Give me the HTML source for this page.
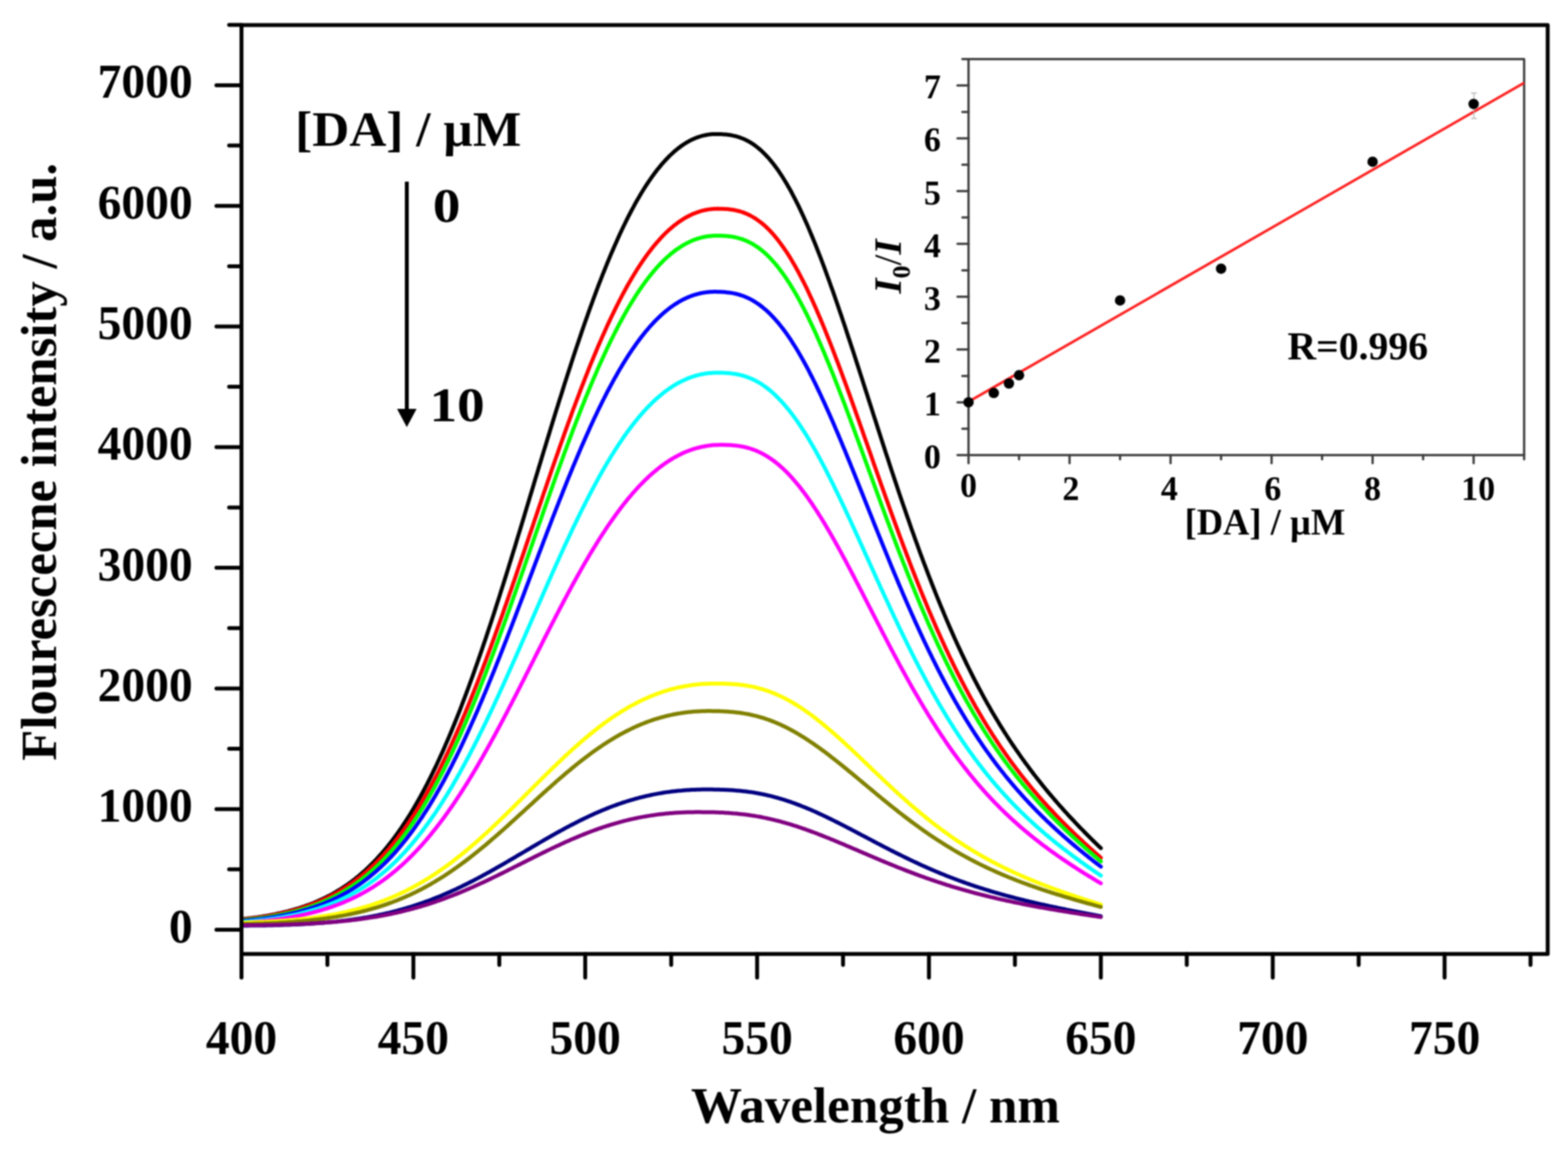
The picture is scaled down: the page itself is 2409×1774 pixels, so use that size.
<!DOCTYPE html>
<html><head><meta charset="utf-8"><title>Fluorescence spectra</title>
<style>html,body{margin:0;padding:0;background:#fff;}svg{display:block;filter:blur(1.1px);}</style>
</head><body>
<svg width="2409" height="1774" viewBox="0 0 2409 1774">
<rect x="0" y="0" width="2409" height="1774" fill="#ffffff"/>
<g fill="none" stroke-width="6" stroke-linejoin="round" stroke-linecap="round">
<path stroke="#000000" d="M371.0,1411.8 L373.6,1411.5 L376.3,1411.2 L378.9,1410.9 L381.6,1410.6 L384.2,1410.3 L386.8,1409.9 L389.5,1409.6 L392.1,1409.2 L394.8,1408.9 L397.4,1408.5 L400.0,1408.1 L402.7,1407.7 L405.3,1407.3 L408.0,1406.8 L410.6,1406.4 L413.2,1405.9 L415.9,1405.4 L418.5,1404.9 L421.2,1404.4 L423.8,1403.9 L426.5,1403.3 L429.1,1402.7 L431.7,1402.1 L434.4,1401.5 L437.0,1400.9 L439.7,1400.3 L442.3,1399.6 L444.9,1398.9 L447.6,1398.2 L450.2,1397.5 L452.9,1396.7 L455.5,1395.9 L458.1,1395.1 L460.8,1394.3 L463.4,1393.4 L466.1,1392.5 L468.7,1391.6 L471.3,1390.7 L474.0,1389.7 L476.6,1388.7 L479.3,1387.7 L481.9,1386.7 L484.5,1385.6 L487.2,1384.5 L489.8,1383.3 L492.5,1382.1 L495.1,1380.9 L497.7,1379.6 L500.4,1378.4 L503.0,1377.0 L505.7,1375.7 L508.3,1374.3 L511.0,1372.8 L513.6,1371.3 L516.2,1369.8 L518.9,1368.2 L521.5,1366.6 L524.2,1365.0 L526.8,1363.3 L529.4,1361.5 L532.1,1359.7 L534.7,1357.9 L537.4,1356.0 L540.0,1354.1 L542.6,1352.1 L545.3,1350.0 L547.9,1347.9 L550.6,1345.8 L553.2,1343.6 L555.8,1341.3 L558.5,1339.0 L561.1,1336.6 L563.8,1334.2 L566.4,1331.7 L569.0,1329.1 L571.7,1326.5 L574.3,1323.8 L577.0,1321.0 L579.6,1318.2 L582.2,1315.3 L584.9,1312.4 L587.5,1309.4 L590.2,1306.3 L592.8,1303.1 L595.5,1299.9 L598.1,1296.6 L600.7,1293.2 L603.4,1289.8 L606.0,1286.2 L608.7,1282.6 L611.3,1279.0 L613.9,1275.2 L616.6,1271.4 L619.2,1267.5 L621.9,1263.5 L624.5,1259.4 L627.1,1255.3 L629.8,1251.0 L632.4,1246.7 L635.1,1242.3 L637.7,1237.8 L640.3,1233.3 L643.0,1228.6 L645.6,1223.9 L648.3,1219.0 L650.9,1214.1 L653.5,1209.1 L656.2,1204.1 L658.8,1198.9 L661.5,1193.6 L664.1,1188.3 L666.7,1182.9 L669.4,1177.4 L672.0,1171.7 L674.7,1166.1 L677.3,1160.3 L680.0,1154.4 L682.6,1148.5 L685.2,1142.4 L687.9,1136.3 L690.5,1130.1 L693.2,1123.8 L695.8,1117.4 L698.4,1111.0 L701.1,1104.4 L703.7,1097.8 L706.4,1091.1 L709.0,1084.3 L711.6,1077.4 L714.3,1070.4 L716.9,1063.4 L719.6,1056.3 L722.2,1049.1 L724.8,1041.9 L727.5,1034.5 L730.1,1027.1 L732.8,1019.6 L735.4,1012.1 L738.0,1004.5 L740.7,996.8 L743.3,989.0 L746.0,981.2 L748.6,973.3 L751.2,965.4 L753.9,957.4 L756.5,949.3 L759.2,941.2 L761.8,933.0 L764.4,924.8 L767.1,916.6 L769.7,908.2 L772.4,899.9 L775.0,891.5 L777.7,883.0 L780.3,874.6 L782.9,866.1 L785.6,857.5 L788.2,848.9 L790.9,840.3 L793.5,831.7 L796.1,823.0 L798.8,814.3 L801.4,805.6 L804.1,796.9 L806.7,788.2 L809.3,779.5 L812.0,770.7 L814.6,761.9 L817.3,753.2 L819.9,744.4 L822.5,735.7 L825.2,726.9 L827.8,718.2 L830.5,709.4 L833.1,700.7 L835.7,692.0 L838.4,683.3 L841.0,674.6 L843.7,666.0 L846.3,657.4 L848.9,648.8 L851.6,640.2 L854.2,631.7 L856.9,623.2 L859.5,614.7 L862.2,606.3 L864.8,598.0 L867.4,589.6 L870.1,581.4 L872.7,573.1 L875.4,565.0 L878.0,556.9 L880.6,548.8 L883.3,540.8 L885.9,532.9 L888.6,525.0 L891.2,517.2 L893.8,509.5 L896.5,501.8 L899.1,494.2 L901.8,486.7 L904.4,479.3 L907.0,471.9 L909.7,464.7 L912.3,457.5 L915.0,450.4 L917.6,443.3 L920.2,436.4 L922.9,429.6 L925.5,422.8 L928.2,416.1 L930.8,409.6 L933.4,403.1 L936.1,396.7 L938.7,390.4 L941.4,384.2 L944.0,378.2 L946.7,372.2 L949.3,366.3 L951.9,360.5 L954.6,354.8 L957.2,349.3 L959.9,343.8 L962.5,338.4 L965.1,333.2 L967.8,328.0 L970.4,323.0 L973.1,318.1 L975.7,313.2 L978.3,308.5 L981.0,303.9 L983.6,299.4 L986.3,295.0 L988.9,290.7 L991.5,286.6 L994.2,282.5 L996.8,278.6 L999.5,274.7 L1002.1,271.0 L1004.7,267.4 L1007.4,263.9 L1010.0,260.4 L1012.7,257.2 L1015.3,254.0 L1017.9,250.9 L1020.6,247.9 L1023.2,245.1 L1025.9,242.3 L1028.5,239.6 L1031.2,237.1 L1033.8,234.7 L1036.4,232.3 L1039.1,230.1 L1041.7,228.0 L1044.4,226.0 L1047.0,224.0 L1049.6,222.2 L1052.3,220.5 L1054.9,218.9 L1057.6,217.4 L1060.2,215.9 L1062.8,214.6 L1065.5,213.4 L1068.1,212.3 L1070.8,211.2 L1073.4,210.3 L1076.0,209.5 L1078.7,208.7 L1081.3,208.1 L1084.0,207.5 L1086.6,207.0 L1089.2,206.6 L1091.9,206.3 L1094.5,206.1 L1097.2,206.0 L1099.8,205.9 L1102.4,206.0 L1105.1,206.0 L1107.7,206.1 L1110.4,206.2 L1113.0,206.4 L1115.6,206.6 L1118.3,206.9 L1120.9,207.3 L1123.6,207.7 L1126.2,208.3 L1128.9,208.9 L1131.5,209.5 L1134.1,210.3 L1136.8,211.2 L1139.4,212.2 L1142.1,213.2 L1144.7,214.4 L1147.3,215.7 L1150.0,217.1 L1152.6,218.6 L1155.3,220.3 L1157.9,222.0 L1160.5,223.9 L1163.2,226.0 L1165.8,228.1 L1168.5,230.4 L1171.1,232.8 L1173.7,235.4 L1176.4,238.1 L1179.0,240.9 L1181.7,243.8 L1184.3,247.0 L1186.9,250.2 L1189.6,253.6 L1192.2,257.1 L1194.9,260.8 L1197.5,264.6 L1200.1,268.6 L1202.8,272.7 L1205.4,277.0 L1208.1,281.3 L1210.7,285.9 L1213.4,290.5 L1216.0,295.3 L1218.6,300.3 L1221.3,305.4 L1223.9,310.6 L1226.6,315.9 L1229.2,321.4 L1231.8,327.0 L1234.5,332.7 L1237.1,338.6 L1239.8,344.6 L1242.4,350.6 L1245.0,356.9 L1247.7,363.2 L1250.3,369.6 L1253.0,376.1 L1255.6,382.8 L1258.2,389.5 L1260.9,396.4 L1263.5,403.3 L1266.2,410.4 L1268.8,417.5 L1271.4,424.7 L1274.1,432.0 L1276.7,439.4 L1279.4,446.8 L1282.0,454.3 L1284.6,461.9 L1287.3,469.6 L1289.9,477.3 L1292.6,485.1 L1295.2,492.9 L1297.9,500.8 L1300.5,508.7 L1303.1,516.7 L1305.8,524.7 L1308.4,532.7 L1311.1,540.8 L1313.7,548.9 L1316.3,557.0 L1319.0,565.2 L1321.6,573.4 L1324.3,581.6 L1326.9,589.8 L1329.5,598.0 L1332.2,606.2 L1334.8,614.5 L1337.5,622.7 L1340.1,630.9 L1342.7,639.1 L1345.4,647.3 L1348.0,655.5 L1350.7,663.7 L1353.3,671.9 L1355.9,680.0 L1358.6,688.2 L1361.2,696.3 L1363.9,704.3 L1366.5,712.4 L1369.1,720.4 L1371.8,728.4 L1374.4,736.3 L1377.1,744.2 L1379.7,752.1 L1382.3,759.9 L1385.0,767.7 L1387.6,775.4 L1390.3,783.1 L1392.9,790.8 L1395.6,798.3 L1398.2,805.9 L1400.8,813.4 L1403.5,820.8 L1406.1,828.2 L1408.8,835.5 L1411.4,842.7 L1414.0,849.9 L1416.7,857.1 L1419.3,864.2 L1422.0,871.2 L1424.6,878.1 L1427.2,885.0 L1429.9,891.8 L1432.5,898.6 L1435.2,905.3 L1437.8,912.0 L1440.4,918.5 L1443.1,925.0 L1445.7,931.5 L1448.4,937.8 L1451.0,944.1 L1453.6,950.4 L1456.3,956.6 L1458.9,962.7 L1461.6,968.7 L1464.2,974.7 L1466.8,980.6 L1469.5,986.4 L1472.1,992.2 L1474.8,997.9 L1477.4,1003.6 L1480.1,1009.1 L1482.7,1014.6 L1485.3,1020.1 L1488.0,1025.5 L1490.6,1030.8 L1493.3,1036.1 L1495.9,1041.3 L1498.5,1046.4 L1501.2,1051.5 L1503.8,1056.5 L1506.5,1061.4 L1509.1,1066.3 L1511.7,1071.2 L1514.4,1075.9 L1517.0,1080.7 L1519.7,1085.3 L1522.3,1089.9 L1524.9,1094.5 L1527.6,1099.0 L1530.2,1103.4 L1532.9,1107.8 L1535.5,1112.1 L1538.1,1116.4 L1540.8,1120.7 L1543.4,1124.8 L1546.1,1129.0 L1548.7,1133.1 L1551.3,1137.1 L1554.0,1141.1 L1556.6,1145.0 L1559.3,1148.9 L1561.9,1152.8 L1564.6,1156.6 L1567.2,1160.4 L1569.8,1164.1 L1572.5,1167.8 L1575.1,1171.4 L1577.8,1175.0 L1580.4,1178.6 L1583.0,1182.1 L1585.7,1185.6 L1588.3,1189.1 L1591.0,1192.5 L1593.6,1195.9 L1596.2,1199.2 L1598.9,1202.5 L1601.5,1205.8 L1604.2,1209.1 L1606.8,1212.3 L1609.4,1215.5 L1612.1,1218.7 L1614.7,1221.8 L1617.4,1224.9 L1620.0,1228.0 L1622.6,1231.0 L1625.3,1234.1 L1627.9,1237.1 L1630.6,1240.0 L1633.2,1243.0 L1635.8,1245.9 L1638.5,1248.8 L1641.1,1251.7 L1643.8,1254.6 L1646.4,1257.4 L1649.1,1260.2 L1651.7,1263.0 L1654.3,1265.8 L1657.0,1268.6 L1659.6,1271.3 L1662.3,1274.0 L1664.9,1276.7 L1667.5,1279.4 L1670.2,1282.1 L1672.8,1284.7 L1675.5,1287.3 L1678.1,1290.0 L1680.7,1292.5 L1683.4,1295.1 L1686.0,1297.7 L1688.7,1300.2 L1691.3,1302.7"/>
<path stroke="#ff0000" d="M371.0,1412.4 L373.6,1412.2 L376.3,1411.9 L378.9,1411.6 L381.6,1411.3 L384.2,1410.9 L386.8,1410.6 L389.5,1410.3 L392.1,1409.9 L394.8,1409.5 L397.4,1409.2 L400.0,1408.8 L402.7,1408.4 L405.3,1408.0 L408.0,1407.5 L410.6,1407.1 L413.2,1406.6 L415.9,1406.1 L418.5,1405.6 L421.2,1405.1 L423.8,1404.6 L426.5,1404.1 L429.1,1403.5 L431.7,1402.9 L434.4,1402.3 L437.0,1401.7 L439.7,1401.1 L442.3,1400.4 L444.9,1399.8 L447.6,1399.1 L450.2,1398.3 L452.9,1397.6 L455.5,1396.8 L458.1,1396.1 L460.8,1395.3 L463.4,1394.4 L466.1,1393.6 L468.7,1392.7 L471.3,1391.8 L474.0,1390.9 L476.6,1389.9 L479.3,1388.9 L481.9,1387.9 L484.5,1386.9 L487.2,1385.8 L489.8,1384.7 L492.5,1383.5 L495.1,1382.4 L497.7,1381.2 L500.4,1379.9 L503.0,1378.7 L505.7,1377.4 L508.3,1376.0 L511.0,1374.6 L513.6,1373.2 L516.2,1371.8 L518.9,1370.3 L521.5,1368.7 L524.2,1367.2 L526.8,1365.5 L529.4,1363.9 L532.1,1362.2 L534.7,1360.4 L537.4,1358.6 L540.0,1356.8 L542.6,1354.9 L545.3,1353.0 L547.9,1351.0 L550.6,1349.0 L553.2,1346.9 L555.8,1344.8 L558.5,1342.6 L561.1,1340.3 L563.8,1338.0 L566.4,1335.7 L569.0,1333.3 L571.7,1330.8 L574.3,1328.3 L577.0,1325.7 L579.6,1323.1 L582.2,1320.4 L584.9,1317.7 L587.5,1314.8 L590.2,1312.0 L592.8,1309.0 L595.5,1306.0 L598.1,1302.9 L600.7,1299.8 L603.4,1296.6 L606.0,1293.3 L608.7,1290.0 L611.3,1286.6 L613.9,1283.1 L616.6,1279.5 L619.2,1275.9 L621.9,1272.2 L624.5,1268.4 L627.1,1264.6 L629.8,1260.7 L632.4,1256.7 L635.1,1252.7 L637.7,1248.5 L640.3,1244.3 L643.0,1240.1 L645.6,1235.7 L648.3,1231.3 L650.9,1226.8 L653.5,1222.2 L656.2,1217.5 L658.8,1212.8 L661.5,1208.0 L664.1,1203.1 L666.7,1198.1 L669.4,1193.1 L672.0,1188.0 L674.7,1182.8 L677.3,1177.5 L680.0,1172.2 L682.6,1166.7 L685.2,1161.2 L687.9,1155.7 L690.5,1150.0 L693.2,1144.3 L695.8,1138.5 L698.4,1132.6 L701.1,1126.7 L703.7,1120.7 L706.4,1114.6 L709.0,1108.4 L711.6,1102.2 L714.3,1095.9 L716.9,1089.5 L719.6,1083.1 L722.2,1076.6 L724.8,1070.1 L727.5,1063.4 L730.1,1056.8 L732.8,1050.0 L735.4,1043.2 L738.0,1036.3 L740.7,1029.4 L743.3,1022.4 L746.0,1015.4 L748.6,1008.3 L751.2,1001.2 L753.9,994.0 L756.5,986.7 L759.2,979.4 L761.8,972.1 L764.4,964.7 L767.1,957.3 L769.7,949.9 L772.4,942.4 L775.0,934.8 L777.7,927.3 L780.3,919.7 L782.9,912.1 L785.6,904.4 L788.2,896.7 L790.9,889.0 L793.5,881.3 L796.1,873.6 L798.8,865.8 L801.4,858.0 L804.1,850.3 L806.7,842.5 L809.3,834.7 L812.0,826.8 L814.6,819.0 L817.3,811.2 L819.9,803.4 L822.5,795.6 L825.2,787.8 L827.8,780.0 L830.5,772.2 L833.1,764.4 L835.7,756.6 L838.4,748.9 L841.0,741.2 L843.7,733.5 L846.3,725.8 L848.9,718.1 L851.6,710.5 L854.2,702.9 L856.9,695.4 L859.5,687.8 L862.2,680.3 L864.8,672.9 L867.4,665.5 L870.1,658.1 L872.7,650.8 L875.4,643.5 L878.0,636.3 L880.6,629.1 L883.3,622.0 L885.9,615.0 L888.6,608.0 L891.2,601.0 L893.8,594.1 L896.5,587.3 L899.1,580.5 L901.8,573.9 L904.4,567.2 L907.0,560.7 L909.7,554.2 L912.3,547.8 L915.0,541.5 L917.6,535.2 L920.2,529.0 L922.9,522.9 L925.5,516.9 L928.2,511.0 L930.8,505.1 L933.4,499.3 L936.1,493.6 L938.7,488.0 L941.4,482.5 L944.0,477.1 L946.7,471.7 L949.3,466.5 L951.9,461.3 L954.6,456.2 L957.2,451.2 L959.9,446.3 L962.5,441.5 L965.1,436.8 L967.8,432.2 L970.4,427.7 L973.1,423.3 L975.7,419.0 L978.3,414.7 L981.0,410.6 L983.6,406.5 L986.3,402.6 L988.9,398.7 L991.5,395.0 L994.2,391.3 L996.8,387.8 L999.5,384.3 L1002.1,380.9 L1004.7,377.7 L1007.4,374.5 L1010.0,371.4 L1012.7,368.4 L1015.3,365.5 L1017.9,362.7 L1020.6,360.0 L1023.2,357.4 L1025.9,354.9 L1028.5,352.5 L1031.2,350.2 L1033.8,348.0 L1036.4,345.8 L1039.1,343.8 L1041.7,341.8 L1044.4,340.0 L1047.0,338.2 L1049.6,336.5 L1052.3,334.9 L1054.9,333.4 L1057.6,332.0 L1060.2,330.7 L1062.8,329.4 L1065.5,328.3 L1068.1,327.2 L1070.8,326.2 L1073.4,325.3 L1076.0,324.5 L1078.7,323.7 L1081.3,323.1 L1084.0,322.5 L1086.6,322.0 L1089.2,321.6 L1091.9,321.2 L1094.5,321.0 L1097.2,320.8 L1099.8,320.7 L1102.4,320.6 L1105.1,320.7 L1107.7,320.7 L1110.4,320.8 L1113.0,320.9 L1115.6,321.1 L1118.3,321.3 L1120.9,321.6 L1123.6,321.9 L1126.2,322.3 L1128.9,322.8 L1131.5,323.4 L1134.1,324.0 L1136.8,324.7 L1139.4,325.5 L1142.1,326.4 L1144.7,327.4 L1147.3,328.5 L1150.0,329.7 L1152.6,331.0 L1155.3,332.5 L1157.9,334.0 L1160.5,335.6 L1163.2,337.4 L1165.8,339.3 L1168.5,341.3 L1171.1,343.4 L1173.7,345.6 L1176.4,348.0 L1179.0,350.5 L1181.7,353.1 L1184.3,355.9 L1186.9,358.8 L1189.6,361.8 L1192.2,365.0 L1194.9,368.2 L1197.5,371.7 L1200.1,375.2 L1202.8,378.9 L1205.4,382.7 L1208.1,386.6 L1210.7,390.7 L1213.4,394.9 L1216.0,399.2 L1218.6,403.7 L1221.3,408.3 L1223.9,413.0 L1226.6,417.8 L1229.2,422.8 L1231.8,427.8 L1234.5,433.0 L1237.1,438.3 L1239.8,443.7 L1242.4,449.3 L1245.0,454.9 L1247.7,460.6 L1250.3,466.5 L1253.0,472.4 L1255.6,478.5 L1258.2,484.6 L1260.9,490.8 L1263.5,497.2 L1266.2,503.6 L1268.8,510.1 L1271.4,516.6 L1274.1,523.3 L1276.7,530.0 L1279.4,536.8 L1282.0,543.7 L1284.6,550.6 L1287.3,557.6 L1289.9,564.6 L1292.6,571.7 L1295.2,578.9 L1297.9,586.1 L1300.5,593.3 L1303.1,600.6 L1305.8,607.9 L1308.4,615.3 L1311.1,622.7 L1313.7,630.1 L1316.3,637.6 L1319.0,645.0 L1321.6,652.5 L1324.3,660.0 L1326.9,667.5 L1329.5,675.0 L1332.2,682.6 L1334.8,690.1 L1337.5,697.6 L1340.1,705.1 L1342.7,712.7 L1345.4,720.2 L1348.0,727.7 L1350.7,735.2 L1353.3,742.7 L1355.9,750.1 L1358.6,757.6 L1361.2,765.0 L1363.9,772.4 L1366.5,779.7 L1369.1,787.1 L1371.8,794.4 L1374.4,801.6 L1377.1,808.9 L1379.7,816.1 L1382.3,823.2 L1385.0,830.3 L1387.6,837.4 L1390.3,844.4 L1392.9,851.4 L1395.6,858.4 L1398.2,865.3 L1400.8,872.1 L1403.5,878.9 L1406.1,885.6 L1408.8,892.3 L1411.4,898.9 L1414.0,905.5 L1416.7,912.1 L1419.3,918.5 L1422.0,924.9 L1424.6,931.3 L1427.2,937.6 L1429.9,943.8 L1432.5,950.0 L1435.2,956.1 L1437.8,962.2 L1440.4,968.2 L1443.1,974.1 L1445.7,980.0 L1448.4,985.8 L1451.0,991.5 L1453.6,997.2 L1456.3,1002.8 L1458.9,1008.4 L1461.6,1013.9 L1464.2,1019.4 L1466.8,1024.7 L1469.5,1030.1 L1472.1,1035.3 L1474.8,1040.5 L1477.4,1045.7 L1480.1,1050.7 L1482.7,1055.8 L1485.3,1060.7 L1488.0,1065.6 L1490.6,1070.5 L1493.3,1075.3 L1495.9,1080.0 L1498.5,1084.7 L1501.2,1089.3 L1503.8,1093.8 L1506.5,1098.3 L1509.1,1102.8 L1511.7,1107.2 L1514.4,1111.5 L1517.0,1115.8 L1519.7,1120.0 L1522.3,1124.2 L1524.9,1128.3 L1527.6,1132.4 L1530.2,1136.5 L1532.9,1140.5 L1535.5,1144.4 L1538.1,1148.3 L1540.8,1152.1 L1543.4,1155.9 L1546.1,1159.7 L1548.7,1163.4 L1551.3,1167.0 L1554.0,1170.7 L1556.6,1174.2 L1559.3,1177.8 L1561.9,1181.3 L1564.6,1184.7 L1567.2,1188.2 L1569.8,1191.5 L1572.5,1194.9 L1575.1,1198.2 L1577.8,1201.5 L1580.4,1204.7 L1583.0,1207.9 L1585.7,1211.1 L1588.3,1214.2 L1591.0,1217.3 L1593.6,1220.4 L1596.2,1223.4 L1598.9,1226.4 L1601.5,1229.4 L1604.2,1232.4 L1606.8,1235.3 L1609.4,1238.2 L1612.1,1241.1 L1614.7,1243.9 L1617.4,1246.7 L1620.0,1249.5 L1622.6,1252.3 L1625.3,1255.0 L1627.9,1257.8 L1630.6,1260.5 L1633.2,1263.1 L1635.8,1265.8 L1638.5,1268.4 L1641.1,1271.0 L1643.8,1273.6 L1646.4,1276.2 L1649.1,1278.8 L1651.7,1281.3 L1654.3,1283.8 L1657.0,1286.3 L1659.6,1288.8 L1662.3,1291.3 L1664.9,1293.8 L1667.5,1296.2 L1670.2,1298.6 L1672.8,1301.0 L1675.5,1303.4 L1678.1,1305.8 L1680.7,1308.1 L1683.4,1310.5 L1686.0,1312.8 L1688.7,1315.1 L1691.3,1317.4"/>
<path stroke="#00ff00" d="M371.0,1413.5 L373.6,1413.2 L376.3,1413.0 L378.9,1412.7 L381.6,1412.4 L384.2,1412.1 L386.8,1411.8 L389.5,1411.5 L392.1,1411.2 L394.8,1410.8 L397.4,1410.5 L400.0,1410.1 L402.7,1409.8 L405.3,1409.4 L408.0,1409.0 L410.6,1408.6 L413.2,1408.1 L415.9,1407.7 L418.5,1407.2 L421.2,1406.8 L423.8,1406.3 L426.5,1405.8 L429.1,1405.3 L431.7,1404.7 L434.4,1404.2 L437.0,1403.6 L439.7,1403.0 L442.3,1402.4 L444.9,1401.8 L447.6,1401.2 L450.2,1400.5 L452.9,1399.8 L455.5,1399.1 L458.1,1398.4 L460.8,1397.6 L463.4,1396.9 L466.1,1396.1 L468.7,1395.3 L471.3,1394.4 L474.0,1393.5 L476.6,1392.7 L479.3,1391.7 L481.9,1390.8 L484.5,1389.8 L487.2,1388.8 L489.8,1387.8 L492.5,1386.7 L495.1,1385.6 L497.7,1384.5 L500.4,1383.3 L503.0,1382.2 L505.7,1380.9 L508.3,1379.7 L511.0,1378.4 L513.6,1377.1 L516.2,1375.7 L518.9,1374.3 L521.5,1372.9 L524.2,1371.4 L526.8,1369.9 L529.4,1368.3 L532.1,1366.7 L534.7,1365.1 L537.4,1363.4 L540.0,1361.7 L542.6,1359.9 L545.3,1358.1 L547.9,1356.2 L550.6,1354.3 L553.2,1352.3 L555.8,1350.3 L558.5,1348.2 L561.1,1346.1 L563.8,1344.0 L566.4,1341.7 L569.0,1339.5 L571.7,1337.1 L574.3,1334.8 L577.0,1332.3 L579.6,1329.8 L582.2,1327.3 L584.9,1324.7 L587.5,1322.0 L590.2,1319.3 L592.8,1316.5 L595.5,1313.6 L598.1,1310.7 L600.7,1307.7 L603.4,1304.7 L606.0,1301.6 L608.7,1298.4 L611.3,1295.1 L613.9,1291.8 L616.6,1288.5 L619.2,1285.0 L621.9,1281.5 L624.5,1277.9 L627.1,1274.2 L629.8,1270.5 L632.4,1266.7 L635.1,1262.9 L637.7,1258.9 L640.3,1254.9 L643.0,1250.8 L645.6,1246.6 L648.3,1242.4 L650.9,1238.1 L653.5,1233.7 L656.2,1229.3 L658.8,1224.7 L661.5,1220.1 L664.1,1215.4 L666.7,1210.7 L669.4,1205.8 L672.0,1200.9 L674.7,1195.9 L677.3,1190.9 L680.0,1185.8 L682.6,1180.6 L685.2,1175.3 L687.9,1169.9 L690.5,1164.5 L693.2,1159.0 L695.8,1153.4 L698.4,1147.8 L701.1,1142.0 L703.7,1136.3 L706.4,1130.4 L709.0,1124.5 L711.6,1118.5 L714.3,1112.4 L716.9,1106.3 L719.6,1100.1 L722.2,1093.8 L724.8,1087.5 L727.5,1081.1 L730.1,1074.6 L732.8,1068.1 L735.4,1061.6 L738.0,1054.9 L740.7,1048.2 L743.3,1041.5 L746.0,1034.7 L748.6,1027.8 L751.2,1020.9 L753.9,1014.0 L756.5,1007.0 L759.2,999.9 L761.8,992.8 L764.4,985.7 L767.1,978.5 L769.7,971.3 L772.4,964.0 L775.0,956.7 L777.7,949.4 L780.3,942.1 L782.9,934.7 L785.6,927.2 L788.2,919.8 L790.9,912.3 L793.5,904.8 L796.1,897.3 L798.8,889.8 L801.4,882.3 L804.1,874.7 L806.7,867.1 L809.3,859.6 L812.0,852.0 L814.6,844.4 L817.3,836.8 L819.9,829.2 L822.5,821.6 L825.2,814.1 L827.8,806.5 L830.5,798.9 L833.1,791.4 L835.7,783.8 L838.4,776.3 L841.0,768.8 L843.7,761.3 L846.3,753.8 L848.9,746.4 L851.6,739.0 L854.2,731.6 L856.9,724.3 L859.5,717.0 L862.2,709.7 L864.8,702.4 L867.4,695.2 L870.1,688.1 L872.7,681.0 L875.4,673.9 L878.0,666.9 L880.6,659.9 L883.3,653.0 L885.9,646.1 L888.6,639.3 L891.2,632.6 L893.8,625.9 L896.5,619.3 L899.1,612.7 L901.8,606.2 L904.4,599.8 L907.0,593.4 L909.7,587.1 L912.3,580.9 L915.0,574.7 L917.6,568.6 L920.2,562.6 L922.9,556.7 L925.5,550.9 L928.2,545.1 L930.8,539.4 L933.4,533.8 L936.1,528.3 L938.7,522.8 L941.4,517.5 L944.0,512.2 L946.7,507.0 L949.3,501.9 L951.9,496.9 L954.6,492.0 L957.2,487.2 L959.9,482.4 L962.5,477.8 L965.1,473.2 L967.8,468.8 L970.4,464.4 L973.1,460.1 L975.7,455.9 L978.3,451.8 L981.0,447.8 L983.6,443.9 L986.3,440.1 L988.9,436.4 L991.5,432.8 L994.2,429.2 L996.8,425.8 L999.5,422.5 L1002.1,419.2 L1004.7,416.1 L1007.4,413.0 L1010.0,410.0 L1012.7,407.2 L1015.3,404.4 L1017.9,401.7 L1020.6,399.1 L1023.2,396.6 L1025.9,394.2 L1028.5,391.9 L1031.2,389.7 L1033.8,387.5 L1036.4,385.5 L1039.1,383.5 L1041.7,381.7 L1044.4,379.9 L1047.0,378.2 L1049.6,376.6 L1052.3,375.1 L1054.9,373.7 L1057.6,372.3 L1060.2,371.1 L1062.8,369.9 L1065.5,368.8 L1068.1,367.8 L1070.8,366.9 L1073.4,366.0 L1076.0,365.3 L1078.7,364.6 L1081.3,364.0 L1084.0,363.5 L1086.6,363.0 L1089.2,362.7 L1091.9,362.4 L1094.5,362.2 L1097.2,362.0 L1099.8,362.0 L1102.4,362.0 L1105.1,362.0 L1107.7,362.1 L1110.4,362.2 L1113.0,362.3 L1115.6,362.5 L1118.3,362.7 L1120.9,363.0 L1123.6,363.4 L1126.2,363.8 L1128.9,364.3 L1131.5,364.9 L1134.1,365.6 L1136.8,366.3 L1139.4,367.2 L1142.1,368.1 L1144.7,369.1 L1147.3,370.2 L1150.0,371.4 L1152.6,372.8 L1155.3,374.2 L1157.9,375.7 L1160.5,377.4 L1163.2,379.1 L1165.8,381.0 L1168.5,383.0 L1171.1,385.1 L1173.7,387.3 L1176.4,389.7 L1179.0,392.2 L1181.7,394.8 L1184.3,397.5 L1186.9,400.4 L1189.6,403.4 L1192.2,406.5 L1194.9,409.7 L1197.5,413.1 L1200.1,416.6 L1202.8,420.2 L1205.4,423.9 L1208.1,427.8 L1210.7,431.8 L1213.4,435.9 L1216.0,440.2 L1218.6,444.5 L1221.3,449.0 L1223.9,453.6 L1226.6,458.3 L1229.2,463.2 L1231.8,468.1 L1234.5,473.2 L1237.1,478.3 L1239.8,483.6 L1242.4,489.0 L1245.0,494.5 L1247.7,500.1 L1250.3,505.8 L1253.0,511.6 L1255.6,517.4 L1258.2,523.4 L1260.9,529.5 L1263.5,535.6 L1266.2,541.8 L1268.8,548.1 L1271.4,554.5 L1274.1,560.9 L1276.7,567.5 L1279.4,574.0 L1282.0,580.7 L1284.6,587.4 L1287.3,594.2 L1289.9,601.0 L1292.6,607.8 L1295.2,614.8 L1297.9,621.7 L1300.5,628.7 L1303.1,635.8 L1305.8,642.8 L1308.4,649.9 L1311.1,657.1 L1313.7,664.2 L1316.3,671.4 L1319.0,678.6 L1321.6,685.8 L1324.3,693.1 L1326.9,700.3 L1329.5,707.6 L1332.2,714.8 L1334.8,722.1 L1337.5,729.3 L1340.1,736.6 L1342.7,743.8 L1345.4,751.0 L1348.0,758.3 L1350.7,765.5 L1353.3,772.7 L1355.9,779.8 L1358.6,787.0 L1361.2,794.1 L1363.9,801.2 L1366.5,808.3 L1369.1,815.3 L1371.8,822.3 L1374.4,829.3 L1377.1,836.3 L1379.7,843.2 L1382.3,850.0 L1385.0,856.9 L1387.6,863.7 L1390.3,870.4 L1392.9,877.1 L1395.6,883.8 L1398.2,890.4 L1400.8,896.9 L1403.5,903.4 L1406.1,909.9 L1408.8,916.3 L1411.4,922.7 L1414.0,929.0 L1416.7,935.2 L1419.3,941.4 L1422.0,947.5 L1424.6,953.6 L1427.2,959.7 L1429.9,965.6 L1432.5,971.5 L1435.2,977.4 L1437.8,983.2 L1440.4,988.9 L1443.1,994.6 L1445.7,1000.2 L1448.4,1005.8 L1451.0,1011.3 L1453.6,1016.7 L1456.3,1022.1 L1458.9,1027.4 L1461.6,1032.7 L1464.2,1037.9 L1466.8,1043.0 L1469.5,1048.1 L1472.1,1053.2 L1474.8,1058.1 L1477.4,1063.1 L1480.1,1067.9 L1482.7,1072.7 L1485.3,1077.4 L1488.0,1082.1 L1490.6,1086.8 L1493.3,1091.3 L1495.9,1095.9 L1498.5,1100.3 L1501.2,1104.7 L1503.8,1109.1 L1506.5,1113.4 L1509.1,1117.6 L1511.7,1121.8 L1514.4,1126.0 L1517.0,1130.1 L1519.7,1134.1 L1522.3,1138.1 L1524.9,1142.1 L1527.6,1146.0 L1530.2,1149.8 L1532.9,1153.6 L1535.5,1157.4 L1538.1,1161.1 L1540.8,1164.8 L1543.4,1168.4 L1546.1,1172.0 L1548.7,1175.5 L1551.3,1179.0 L1554.0,1182.5 L1556.6,1185.9 L1559.3,1189.3 L1561.9,1192.7 L1564.6,1196.0 L1567.2,1199.2 L1569.8,1202.5 L1572.5,1205.7 L1575.1,1208.8 L1577.8,1212.0 L1580.4,1215.0 L1583.0,1218.1 L1585.7,1221.1 L1588.3,1224.1 L1591.0,1227.1 L1593.6,1230.0 L1596.2,1233.0 L1598.9,1235.8 L1601.5,1238.7 L1604.2,1241.5 L1606.8,1244.3 L1609.4,1247.1 L1612.1,1249.8 L1614.7,1252.6 L1617.4,1255.3 L1620.0,1257.9 L1622.6,1260.6 L1625.3,1263.2 L1627.9,1265.8 L1630.6,1268.4 L1633.2,1271.0 L1635.8,1273.5 L1638.5,1276.1 L1641.1,1278.6 L1643.8,1281.1 L1646.4,1283.5 L1649.1,1286.0 L1651.7,1288.4 L1654.3,1290.8 L1657.0,1293.2 L1659.6,1295.6 L1662.3,1298.0 L1664.9,1300.3 L1667.5,1302.7 L1670.2,1305.0 L1672.8,1307.3 L1675.5,1309.6 L1678.1,1311.8 L1680.7,1314.1 L1683.4,1316.3 L1686.0,1318.6 L1688.7,1320.8 L1691.3,1323.0"/>
<path stroke="#0000ff" d="M371.0,1414.6 L373.6,1414.4 L376.3,1414.1 L378.9,1413.9 L381.6,1413.6 L384.2,1413.3 L386.8,1413.1 L389.5,1412.8 L392.1,1412.5 L394.8,1412.2 L397.4,1411.8 L400.0,1411.5 L402.7,1411.2 L405.3,1410.8 L408.0,1410.4 L410.6,1410.0 L413.2,1409.6 L415.9,1409.2 L418.5,1408.8 L421.2,1408.4 L423.8,1407.9 L426.5,1407.5 L429.1,1407.0 L431.7,1406.5 L434.4,1406.0 L437.0,1405.4 L439.7,1404.9 L442.3,1404.3 L444.9,1403.8 L447.6,1403.2 L450.2,1402.5 L452.9,1401.9 L455.5,1401.3 L458.1,1400.6 L460.8,1399.9 L463.4,1399.2 L466.1,1398.4 L468.7,1397.7 L471.3,1396.9 L474.0,1396.1 L476.6,1395.2 L479.3,1394.4 L481.9,1393.5 L484.5,1392.6 L487.2,1391.7 L489.8,1390.7 L492.5,1389.7 L495.1,1388.7 L497.7,1387.7 L500.4,1386.6 L503.0,1385.5 L505.7,1384.3 L508.3,1383.2 L511.0,1382.0 L513.6,1380.7 L516.2,1379.5 L518.9,1378.2 L521.5,1376.8 L524.2,1375.4 L526.8,1374.0 L529.4,1372.6 L532.1,1371.1 L534.7,1369.6 L537.4,1368.0 L540.0,1366.4 L542.6,1364.7 L545.3,1363.0 L547.9,1361.3 L550.6,1359.5 L553.2,1357.7 L555.8,1355.8 L558.5,1353.9 L561.1,1351.9 L563.8,1349.9 L566.4,1347.8 L569.0,1345.7 L571.7,1343.5 L574.3,1341.3 L577.0,1339.0 L579.6,1336.7 L582.2,1334.3 L584.9,1331.9 L587.5,1329.4 L590.2,1326.9 L592.8,1324.3 L595.5,1321.6 L598.1,1318.9 L600.7,1316.1 L603.4,1313.3 L606.0,1310.4 L608.7,1307.4 L611.3,1304.4 L613.9,1301.3 L616.6,1298.1 L619.2,1294.9 L621.9,1291.6 L624.5,1288.3 L627.1,1284.9 L629.8,1281.4 L632.4,1277.9 L635.1,1274.3 L637.7,1270.6 L640.3,1266.9 L643.0,1263.1 L645.6,1259.2 L648.3,1255.2 L650.9,1251.2 L653.5,1247.1 L656.2,1243.0 L658.8,1238.8 L661.5,1234.5 L664.1,1230.1 L666.7,1225.7 L669.4,1221.2 L672.0,1216.6 L674.7,1212.0 L677.3,1207.3 L680.0,1202.5 L682.6,1197.7 L685.2,1192.7 L687.9,1187.8 L690.5,1182.7 L693.2,1177.6 L695.8,1172.4 L698.4,1167.2 L701.1,1161.8 L703.7,1156.5 L706.4,1151.0 L709.0,1145.5 L711.6,1139.9 L714.3,1134.3 L716.9,1128.6 L719.6,1122.8 L722.2,1117.0 L724.8,1111.1 L727.5,1105.2 L730.1,1099.2 L732.8,1093.2 L735.4,1087.1 L738.0,1080.9 L740.7,1074.7 L743.3,1068.4 L746.0,1062.1 L748.6,1055.8 L751.2,1049.4 L753.9,1042.9 L756.5,1036.4 L759.2,1029.9 L761.8,1023.3 L764.4,1016.7 L767.1,1010.1 L769.7,1003.4 L772.4,996.7 L775.0,989.9 L777.7,983.1 L780.3,976.3 L782.9,969.5 L785.6,962.6 L788.2,955.7 L790.9,948.8 L793.5,941.9 L796.1,935.0 L798.8,928.0 L801.4,921.1 L804.1,914.1 L806.7,907.1 L809.3,900.1 L812.0,893.1 L814.6,886.1 L817.3,879.1 L819.9,872.1 L822.5,865.1 L825.2,858.1 L827.8,851.1 L830.5,844.2 L833.1,837.2 L835.7,830.3 L838.4,823.3 L841.0,816.4 L843.7,809.5 L846.3,802.7 L848.9,795.8 L851.6,789.0 L854.2,782.2 L856.9,775.5 L859.5,768.7 L862.2,762.1 L864.8,755.4 L867.4,748.8 L870.1,742.2 L872.7,735.7 L875.4,729.2 L878.0,722.8 L880.6,716.4 L883.3,710.1 L885.9,703.8 L888.6,697.5 L891.2,691.4 L893.8,685.2 L896.5,679.2 L899.1,673.2 L901.8,667.2 L904.4,661.4 L907.0,655.6 L909.7,649.8 L912.3,644.1 L915.0,638.5 L917.6,633.0 L920.2,627.5 L922.9,622.1 L925.5,616.8 L928.2,611.5 L930.8,606.3 L933.4,601.2 L936.1,596.2 L938.7,591.3 L941.4,586.4 L944.0,581.6 L946.7,576.9 L949.3,572.3 L951.9,567.8 L954.6,563.3 L957.2,558.9 L959.9,554.6 L962.5,550.4 L965.1,546.3 L967.8,542.3 L970.4,538.3 L973.1,534.5 L975.7,530.7 L978.3,527.0 L981.0,523.4 L983.6,519.9 L986.3,516.4 L988.9,513.1 L991.5,509.8 L994.2,506.7 L996.8,503.6 L999.5,500.6 L1002.1,497.7 L1004.7,494.9 L1007.4,492.2 L1010.0,489.5 L1012.7,487.0 L1015.3,484.5 L1017.9,482.1 L1020.6,479.8 L1023.2,477.6 L1025.9,475.5 L1028.5,473.4 L1031.2,471.4 L1033.8,469.6 L1036.4,467.8 L1039.1,466.1 L1041.7,464.4 L1044.4,462.9 L1047.0,461.4 L1049.6,460.0 L1052.3,458.7 L1054.9,457.5 L1057.6,456.4 L1060.2,455.3 L1062.8,454.3 L1065.5,453.4 L1068.1,452.5 L1070.8,451.8 L1073.4,451.1 L1076.0,450.5 L1078.7,449.9 L1081.3,449.5 L1084.0,449.1 L1086.6,448.7 L1089.2,448.5 L1091.9,448.3 L1094.5,448.2 L1097.2,448.1 L1099.8,448.1 L1102.4,448.2 L1105.1,448.2 L1107.7,448.3 L1110.4,448.5 L1113.0,448.6 L1115.6,448.9 L1118.3,449.2 L1120.9,449.5 L1123.6,449.9 L1126.2,450.4 L1128.9,450.9 L1131.5,451.5 L1134.1,452.2 L1136.8,453.0 L1139.4,453.8 L1142.1,454.8 L1144.7,455.8 L1147.3,456.9 L1150.0,458.1 L1152.6,459.4 L1155.3,460.8 L1157.9,462.4 L1160.5,464.0 L1163.2,465.7 L1165.8,467.5 L1168.5,469.5 L1171.1,471.5 L1173.7,473.7 L1176.4,475.9 L1179.0,478.3 L1181.7,480.8 L1184.3,483.4 L1186.9,486.1 L1189.6,489.0 L1192.2,491.9 L1194.9,495.0 L1197.5,498.2 L1200.1,501.5 L1202.8,504.9 L1205.4,508.4 L1208.1,512.1 L1210.7,515.8 L1213.4,519.7 L1216.0,523.7 L1218.6,527.8 L1221.3,532.0 L1223.9,536.3 L1226.6,540.7 L1229.2,545.2 L1231.8,549.8 L1234.5,554.5 L1237.1,559.3 L1239.8,564.2 L1242.4,569.2 L1245.0,574.3 L1247.7,579.5 L1250.3,584.8 L1253.0,590.2 L1255.6,595.6 L1258.2,601.1 L1260.9,606.7 L1263.5,612.4 L1266.2,618.1 L1268.8,623.9 L1271.4,629.8 L1274.1,635.8 L1276.7,641.8 L1279.4,647.8 L1282.0,653.9 L1284.6,660.1 L1287.3,666.3 L1289.9,672.6 L1292.6,678.9 L1295.2,685.3 L1297.9,691.6 L1300.5,698.1 L1303.1,704.5 L1305.8,711.0 L1308.4,717.5 L1311.1,724.1 L1313.7,730.6 L1316.3,737.2 L1319.0,743.8 L1321.6,750.4 L1324.3,757.0 L1326.9,763.6 L1329.5,770.2 L1332.2,776.9 L1334.8,783.5 L1337.5,790.1 L1340.1,796.7 L1342.7,803.4 L1345.4,810.0 L1348.0,816.5 L1350.7,823.1 L1353.3,829.7 L1355.9,836.2 L1358.6,842.7 L1361.2,849.2 L1363.9,855.7 L1366.5,862.2 L1369.1,868.6 L1371.8,875.0 L1374.4,881.3 L1377.1,887.7 L1379.7,894.0 L1382.3,900.2 L1385.0,906.4 L1387.6,912.6 L1390.3,918.8 L1392.9,924.9 L1395.6,930.9 L1398.2,936.9 L1400.8,942.9 L1403.5,948.8 L1406.1,954.7 L1408.8,960.5 L1411.4,966.3 L1414.0,972.1 L1416.7,977.8 L1419.3,983.4 L1422.0,989.0 L1424.6,994.5 L1427.2,1000.0 L1429.9,1005.4 L1432.5,1010.8 L1435.2,1016.1 L1437.8,1021.4 L1440.4,1026.6 L1443.1,1031.8 L1445.7,1036.9 L1448.4,1042.0 L1451.0,1047.0 L1453.6,1051.9 L1456.3,1056.8 L1458.9,1061.7 L1461.6,1066.5 L1464.2,1071.2 L1466.8,1075.9 L1469.5,1080.5 L1472.1,1085.1 L1474.8,1089.6 L1477.4,1094.1 L1480.1,1098.5 L1482.7,1102.9 L1485.3,1107.2 L1488.0,1111.4 L1490.6,1115.7 L1493.3,1119.8 L1495.9,1123.9 L1498.5,1128.0 L1501.2,1132.0 L1503.8,1136.0 L1506.5,1139.9 L1509.1,1143.8 L1511.7,1147.6 L1514.4,1151.4 L1517.0,1155.1 L1519.7,1158.8 L1522.3,1162.4 L1524.9,1166.0 L1527.6,1169.6 L1530.2,1173.1 L1532.9,1176.6 L1535.5,1180.0 L1538.1,1183.4 L1540.8,1186.7 L1543.4,1190.0 L1546.1,1193.3 L1548.7,1196.5 L1551.3,1199.7 L1554.0,1202.9 L1556.6,1206.0 L1559.3,1209.1 L1561.9,1212.1 L1564.6,1215.2 L1567.2,1218.1 L1569.8,1221.1 L1572.5,1224.0 L1575.1,1226.9 L1577.8,1229.8 L1580.4,1232.6 L1583.0,1235.4 L1585.7,1238.1 L1588.3,1240.9 L1591.0,1243.6 L1593.6,1246.3 L1596.2,1248.9 L1598.9,1251.6 L1601.5,1254.2 L1604.2,1256.7 L1606.8,1259.3 L1609.4,1261.8 L1612.1,1264.3 L1614.7,1266.8 L1617.4,1269.3 L1620.0,1271.7 L1622.6,1274.2 L1625.3,1276.6 L1627.9,1279.0 L1630.6,1281.3 L1633.2,1283.7 L1635.8,1286.0 L1638.5,1288.3 L1641.1,1290.6 L1643.8,1292.9 L1646.4,1295.1 L1649.1,1297.4 L1651.7,1299.6 L1654.3,1301.8 L1657.0,1304.0 L1659.6,1306.2 L1662.3,1308.3 L1664.9,1310.5 L1667.5,1312.6 L1670.2,1314.7 L1672.8,1316.8 L1675.5,1318.9 L1678.1,1321.0 L1680.7,1323.1 L1683.4,1325.1 L1686.0,1327.2 L1688.7,1329.2 L1691.3,1331.2"/>
<path stroke="#00ffff" d="M371.0,1416.1 L373.6,1415.9 L376.3,1415.7 L378.9,1415.5 L381.6,1415.2 L384.2,1415.0 L386.8,1414.7 L389.5,1414.5 L392.1,1414.2 L394.8,1413.9 L397.4,1413.6 L400.0,1413.3 L402.7,1413.0 L405.3,1412.7 L408.0,1412.4 L410.6,1412.1 L413.2,1411.7 L415.9,1411.3 L418.5,1411.0 L421.2,1410.6 L423.8,1410.2 L426.5,1409.8 L429.1,1409.3 L431.7,1408.9 L434.4,1408.4 L437.0,1408.0 L439.7,1407.5 L442.3,1407.0 L444.9,1406.5 L447.6,1406.0 L450.2,1405.4 L452.9,1404.9 L455.5,1404.3 L458.1,1403.7 L460.8,1403.1 L463.4,1402.4 L466.1,1401.8 L468.7,1401.1 L471.3,1400.4 L474.0,1399.7 L476.6,1399.0 L479.3,1398.2 L481.9,1397.4 L484.5,1396.6 L487.2,1395.8 L489.8,1395.0 L492.5,1394.1 L495.1,1393.2 L497.7,1392.3 L500.4,1391.4 L503.0,1390.4 L505.7,1389.4 L508.3,1388.4 L511.0,1387.3 L513.6,1386.2 L516.2,1385.1 L518.9,1384.0 L521.5,1382.8 L524.2,1381.6 L526.8,1380.3 L529.4,1379.1 L532.1,1377.8 L534.7,1376.4 L537.4,1375.1 L540.0,1373.7 L542.6,1372.2 L545.3,1370.7 L547.9,1369.2 L550.6,1367.6 L553.2,1366.0 L555.8,1364.4 L558.5,1362.7 L561.1,1361.0 L563.8,1359.3 L566.4,1357.5 L569.0,1355.6 L571.7,1353.7 L574.3,1351.8 L577.0,1349.8 L579.6,1347.8 L582.2,1345.7 L584.9,1343.6 L587.5,1341.4 L590.2,1339.2 L592.8,1336.9 L595.5,1334.6 L598.1,1332.3 L600.7,1329.8 L603.4,1327.4 L606.0,1324.9 L608.7,1322.3 L611.3,1319.7 L613.9,1317.0 L616.6,1314.2 L619.2,1311.5 L621.9,1308.6 L624.5,1305.7 L627.1,1302.8 L629.8,1299.7 L632.4,1296.7 L635.1,1293.5 L637.7,1290.4 L640.3,1287.1 L643.0,1283.8 L645.6,1280.5 L648.3,1277.0 L650.9,1273.6 L653.5,1270.0 L656.2,1266.4 L658.8,1262.8 L661.5,1259.1 L664.1,1255.3 L666.7,1251.5 L669.4,1247.6 L672.0,1243.6 L674.7,1239.6 L677.3,1235.5 L680.0,1231.4 L682.6,1227.2 L685.2,1223.0 L687.9,1218.6 L690.5,1214.3 L693.2,1209.9 L695.8,1205.4 L698.4,1200.8 L701.1,1196.2 L703.7,1191.6 L706.4,1186.9 L709.0,1182.1 L711.6,1177.3 L714.3,1172.4 L716.9,1167.5 L719.6,1162.5 L722.2,1157.5 L724.8,1152.4 L727.5,1147.3 L730.1,1142.1 L732.8,1136.9 L735.4,1131.6 L738.0,1126.3 L740.7,1121.0 L743.3,1115.5 L746.0,1110.1 L748.6,1104.6 L751.2,1099.1 L753.9,1093.5 L756.5,1087.9 L759.2,1082.2 L761.8,1076.6 L764.4,1070.9 L767.1,1065.1 L769.7,1059.3 L772.4,1053.5 L775.0,1047.7 L777.7,1041.8 L780.3,1035.9 L782.9,1030.0 L785.6,1024.1 L788.2,1018.1 L790.9,1012.2 L793.5,1006.2 L796.1,1000.2 L798.8,994.2 L801.4,988.1 L804.1,982.1 L806.7,976.1 L809.3,970.0 L812.0,963.9 L814.6,957.9 L817.3,951.8 L819.9,945.8 L822.5,939.7 L825.2,933.6 L827.8,927.6 L830.5,921.6 L833.1,915.5 L835.7,909.5 L838.4,903.5 L841.0,897.5 L843.7,891.5 L846.3,885.6 L848.9,879.6 L851.6,873.7 L854.2,867.8 L856.9,862.0 L859.5,856.1 L862.2,850.3 L864.8,844.6 L867.4,838.8 L870.1,833.1 L872.7,827.4 L875.4,821.8 L878.0,816.2 L880.6,810.6 L883.3,805.1 L885.9,799.6 L888.6,794.2 L891.2,788.8 L893.8,783.5 L896.5,778.2 L899.1,773.0 L901.8,767.8 L904.4,762.6 L907.0,757.6 L909.7,752.5 L912.3,747.6 L915.0,742.7 L917.6,737.8 L920.2,733.0 L922.9,728.3 L925.5,723.6 L928.2,719.0 L930.8,714.5 L933.4,710.0 L936.1,705.6 L938.7,701.3 L941.4,697.0 L944.0,692.8 L946.7,688.7 L949.3,684.6 L951.9,680.6 L954.6,676.7 L957.2,672.8 L959.9,669.0 L962.5,665.3 L965.1,661.7 L967.8,658.1 L970.4,654.6 L973.1,651.2 L975.7,647.9 L978.3,644.6 L981.0,641.4 L983.6,638.3 L986.3,635.2 L988.9,632.3 L991.5,629.4 L994.2,626.5 L996.8,623.8 L999.5,621.1 L1002.1,618.5 L1004.7,616.0 L1007.4,613.5 L1010.0,611.2 L1012.7,608.9 L1015.3,606.7 L1017.9,604.5 L1020.6,602.4 L1023.2,600.4 L1025.9,598.5 L1028.5,596.6 L1031.2,594.9 L1033.8,593.1 L1036.4,591.5 L1039.1,589.9 L1041.7,588.4 L1044.4,587.0 L1047.0,585.7 L1049.6,584.4 L1052.3,583.2 L1054.9,582.0 L1057.6,580.9 L1060.2,579.9 L1062.8,579.0 L1065.5,578.1 L1068.1,577.3 L1070.8,576.5 L1073.4,575.9 L1076.0,575.2 L1078.7,574.7 L1081.3,574.2 L1084.0,573.8 L1086.6,573.4 L1089.2,573.1 L1091.9,572.9 L1094.5,572.7 L1097.2,572.5 L1099.8,572.5 L1102.4,572.5 L1105.1,572.5 L1107.7,572.5 L1110.4,572.6 L1113.0,572.7 L1115.6,572.9 L1118.3,573.0 L1120.9,573.3 L1123.6,573.6 L1126.2,573.9 L1128.9,574.3 L1131.5,574.8 L1134.1,575.3 L1136.8,575.9 L1139.4,576.5 L1142.1,577.2 L1144.7,578.1 L1147.3,578.9 L1150.0,579.9 L1152.6,581.0 L1155.3,582.1 L1157.9,583.3 L1160.5,584.6 L1163.2,586.0 L1165.8,587.5 L1168.5,589.1 L1171.1,590.8 L1173.7,592.6 L1176.4,594.5 L1179.0,596.5 L1181.7,598.6 L1184.3,600.8 L1186.9,603.1 L1189.6,605.5 L1192.2,608.0 L1194.9,610.6 L1197.5,613.3 L1200.1,616.1 L1202.8,619.0 L1205.4,622.0 L1208.1,625.1 L1210.7,628.3 L1213.4,631.6 L1216.0,635.0 L1218.6,638.5 L1221.3,642.1 L1223.9,645.8 L1226.6,649.6 L1229.2,653.5 L1231.8,657.5 L1234.5,661.6 L1237.1,665.7 L1239.8,670.0 L1242.4,674.3 L1245.0,678.8 L1247.7,683.3 L1250.3,687.8 L1253.0,692.5 L1255.6,697.2 L1258.2,702.0 L1260.9,706.9 L1263.5,711.9 L1266.2,716.9 L1268.8,721.9 L1271.4,727.1 L1274.1,732.3 L1276.7,737.5 L1279.4,742.8 L1282.0,748.2 L1284.6,753.6 L1287.3,759.1 L1289.9,764.5 L1292.6,770.1 L1295.2,775.7 L1297.9,781.3 L1300.5,786.9 L1303.1,792.6 L1305.8,798.3 L1308.4,804.0 L1311.1,809.8 L1313.7,815.5 L1316.3,821.3 L1319.0,827.1 L1321.6,832.9 L1324.3,838.8 L1326.9,844.6 L1329.5,850.4 L1332.2,856.3 L1334.8,862.1 L1337.5,867.9 L1340.1,873.8 L1342.7,879.6 L1345.4,885.4 L1348.0,891.3 L1350.7,897.1 L1353.3,902.9 L1355.9,908.6 L1358.6,914.4 L1361.2,920.1 L1363.9,925.8 L1366.5,931.5 L1369.1,937.2 L1371.8,942.9 L1374.4,948.5 L1377.1,954.1 L1379.7,959.6 L1382.3,965.2 L1385.0,970.6 L1387.6,976.1 L1390.3,981.5 L1392.9,986.9 L1395.6,992.3 L1398.2,997.6 L1400.8,1002.9 L1403.5,1008.1 L1406.1,1013.3 L1408.8,1018.5 L1411.4,1023.6 L1414.0,1028.6 L1416.7,1033.7 L1419.3,1038.6 L1422.0,1043.6 L1424.6,1048.5 L1427.2,1053.3 L1429.9,1058.1 L1432.5,1062.9 L1435.2,1067.6 L1437.8,1072.2 L1440.4,1076.8 L1443.1,1081.4 L1445.7,1085.9 L1448.4,1090.4 L1451.0,1094.8 L1453.6,1099.2 L1456.3,1103.5 L1458.9,1107.8 L1461.6,1112.0 L1464.2,1116.2 L1466.8,1120.3 L1469.5,1124.4 L1472.1,1128.4 L1474.8,1132.4 L1477.4,1136.3 L1480.1,1140.2 L1482.7,1144.1 L1485.3,1147.9 L1488.0,1151.7 L1490.6,1155.4 L1493.3,1159.0 L1495.9,1162.7 L1498.5,1166.2 L1501.2,1169.8 L1503.8,1173.3 L1506.5,1176.7 L1509.1,1180.1 L1511.7,1183.5 L1514.4,1186.8 L1517.0,1190.1 L1519.7,1193.4 L1522.3,1196.6 L1524.9,1199.7 L1527.6,1202.9 L1530.2,1206.0 L1532.9,1209.0 L1535.5,1212.0 L1538.1,1215.0 L1540.8,1217.9 L1543.4,1220.9 L1546.1,1223.7 L1548.7,1226.6 L1551.3,1229.4 L1554.0,1232.2 L1556.6,1234.9 L1559.3,1237.6 L1561.9,1240.3 L1564.6,1242.9 L1567.2,1245.6 L1569.8,1248.1 L1572.5,1250.7 L1575.1,1253.2 L1577.8,1255.8 L1580.4,1258.2 L1583.0,1260.7 L1585.7,1263.1 L1588.3,1265.5 L1591.0,1267.9 L1593.6,1270.3 L1596.2,1272.6 L1598.9,1274.9 L1601.5,1277.2 L1604.2,1279.5 L1606.8,1281.7 L1609.4,1283.9 L1612.1,1286.1 L1614.7,1288.3 L1617.4,1290.5 L1620.0,1292.6 L1622.6,1294.8 L1625.3,1296.9 L1627.9,1299.0 L1630.6,1301.0 L1633.2,1303.1 L1635.8,1305.1 L1638.5,1307.2 L1641.1,1309.2 L1643.8,1311.2 L1646.4,1313.2 L1649.1,1315.1 L1651.7,1317.1 L1654.3,1319.0 L1657.0,1320.9 L1659.6,1322.9 L1662.3,1324.7 L1664.9,1326.6 L1667.5,1328.5 L1670.2,1330.4 L1672.8,1332.2 L1675.5,1334.0 L1678.1,1335.9 L1680.7,1337.7 L1683.4,1339.5 L1686.0,1341.3 L1688.7,1343.0 L1691.3,1344.8"/>
<path stroke="#ff00ff" d="M371.0,1417.5 L373.6,1417.3 L376.3,1417.1 L378.9,1416.9 L381.6,1416.7 L384.2,1416.5 L386.8,1416.3 L389.5,1416.1 L392.1,1415.8 L394.8,1415.6 L397.4,1415.3 L400.0,1415.1 L402.7,1414.8 L405.3,1414.5 L408.0,1414.2 L410.6,1413.9 L413.2,1413.6 L415.9,1413.3 L418.5,1413.0 L421.2,1412.6 L423.8,1412.3 L426.5,1411.9 L429.1,1411.6 L431.7,1411.2 L434.4,1410.8 L437.0,1410.4 L439.7,1409.9 L442.3,1409.5 L444.9,1409.1 L447.6,1408.6 L450.2,1408.1 L452.9,1407.6 L455.5,1407.1 L458.1,1406.6 L460.8,1406.1 L463.4,1405.5 L466.1,1405.0 L468.7,1404.4 L471.3,1403.8 L474.0,1403.1 L476.6,1402.5 L479.3,1401.9 L481.9,1401.2 L484.5,1400.5 L487.2,1399.8 L489.8,1399.0 L492.5,1398.3 L495.1,1397.5 L497.7,1396.7 L500.4,1395.9 L503.0,1395.1 L505.7,1394.2 L508.3,1393.3 L511.0,1392.4 L513.6,1391.4 L516.2,1390.5 L518.9,1389.5 L521.5,1388.5 L524.2,1387.4 L526.8,1386.4 L529.4,1385.3 L532.1,1384.1 L534.7,1383.0 L537.4,1381.8 L540.0,1380.6 L542.6,1379.3 L545.3,1378.0 L547.9,1376.7 L550.6,1375.4 L553.2,1374.0 L555.8,1372.6 L558.5,1371.2 L561.1,1369.7 L563.8,1368.2 L566.4,1366.6 L569.0,1365.0 L571.7,1363.4 L574.3,1361.7 L577.0,1360.0 L579.6,1358.3 L582.2,1356.5 L584.9,1354.7 L587.5,1352.8 L590.2,1350.9 L592.8,1349.0 L595.5,1347.0 L598.1,1344.9 L600.7,1342.9 L603.4,1340.7 L606.0,1338.6 L608.7,1336.4 L611.3,1334.1 L613.9,1331.8 L616.6,1329.5 L619.2,1327.1 L621.9,1324.6 L624.5,1322.1 L627.1,1319.6 L629.8,1317.0 L632.4,1314.4 L635.1,1311.7 L637.7,1309.0 L640.3,1306.2 L643.0,1303.4 L645.6,1300.5 L648.3,1297.6 L650.9,1294.6 L653.5,1291.6 L656.2,1288.5 L658.8,1285.4 L661.5,1282.2 L664.1,1278.9 L666.7,1275.7 L669.4,1272.3 L672.0,1268.9 L674.7,1265.5 L677.3,1262.0 L680.0,1258.5 L682.6,1254.9 L685.2,1251.3 L687.9,1247.6 L690.5,1243.8 L693.2,1240.0 L695.8,1236.2 L698.4,1232.3 L701.1,1228.4 L703.7,1224.4 L706.4,1220.4 L709.0,1216.3 L711.6,1212.2 L714.3,1208.0 L716.9,1203.8 L719.6,1199.5 L722.2,1195.2 L724.8,1190.9 L727.5,1186.5 L730.1,1182.1 L732.8,1177.6 L735.4,1173.1 L738.0,1168.5 L740.7,1163.9 L743.3,1159.3 L746.0,1154.6 L748.6,1149.9 L751.2,1145.2 L753.9,1140.4 L756.5,1135.6 L759.2,1130.8 L761.8,1125.9 L764.4,1121.0 L767.1,1116.1 L769.7,1111.1 L772.4,1106.1 L775.0,1101.1 L777.7,1096.1 L780.3,1091.0 L782.9,1085.9 L785.6,1080.9 L788.2,1075.7 L790.9,1070.6 L793.5,1065.5 L796.1,1060.3 L798.8,1055.1 L801.4,1049.9 L804.1,1044.8 L806.7,1039.6 L809.3,1034.3 L812.0,1029.1 L814.6,1023.9 L817.3,1018.7 L819.9,1013.5 L822.5,1008.2 L825.2,1003.0 L827.8,997.8 L830.5,992.6 L833.1,987.4 L835.7,982.2 L838.4,977.0 L841.0,971.8 L843.7,966.7 L846.3,961.5 L848.9,956.4 L851.6,951.3 L854.2,946.2 L856.9,941.1 L859.5,936.0 L862.2,931.0 L864.8,926.0 L867.4,921.0 L870.1,916.1 L872.7,911.1 L875.4,906.2 L878.0,901.4 L880.6,896.5 L883.3,891.7 L885.9,887.0 L888.6,882.3 L891.2,877.6 L893.8,872.9 L896.5,868.3 L899.1,863.7 L901.8,859.2 L904.4,854.7 L907.0,850.3 L909.7,845.9 L912.3,841.6 L915.0,837.3 L917.6,833.0 L920.2,828.8 L922.9,824.7 L925.5,820.6 L928.2,816.6 L930.8,812.6 L933.4,808.6 L936.1,804.8 L938.7,800.9 L941.4,797.2 L944.0,793.5 L946.7,789.8 L949.3,786.2 L951.9,782.7 L954.6,779.2 L957.2,775.8 L959.9,772.4 L962.5,769.1 L965.1,765.9 L967.8,762.7 L970.4,759.6 L973.1,756.6 L975.7,753.6 L978.3,750.7 L981.0,747.8 L983.6,745.0 L986.3,742.3 L988.9,739.6 L991.5,737.0 L994.2,734.5 L996.8,732.0 L999.5,729.6 L1002.1,727.3 L1004.7,725.0 L1007.4,722.8 L1010.0,720.6 L1012.7,718.5 L1015.3,716.5 L1017.9,714.5 L1020.6,712.6 L1023.2,710.8 L1025.9,709.0 L1028.5,707.3 L1031.2,705.6 L1033.8,704.0 L1036.4,702.5 L1039.1,701.1 L1041.7,699.7 L1044.4,698.3 L1047.0,697.0 L1049.6,695.8 L1052.3,694.6 L1054.9,693.5 L1057.6,692.5 L1060.2,691.5 L1062.8,690.6 L1065.5,689.7 L1068.1,688.9 L1070.8,688.2 L1073.4,687.5 L1076.0,686.8 L1078.7,686.2 L1081.3,685.7 L1084.0,685.2 L1086.6,684.8 L1089.2,684.4 L1091.9,684.1 L1094.5,683.8 L1097.2,683.6 L1099.8,683.5 L1102.4,683.4 L1105.1,683.3 L1107.7,683.3 L1110.4,683.3 L1113.0,683.3 L1115.6,683.4 L1118.3,683.5 L1120.9,683.6 L1123.6,683.8 L1126.2,684.0 L1128.9,684.2 L1131.5,684.5 L1134.1,684.9 L1136.8,685.3 L1139.4,685.7 L1142.1,686.3 L1144.7,686.8 L1147.3,687.5 L1150.0,688.2 L1152.6,689.0 L1155.3,689.9 L1157.9,690.8 L1160.5,691.8 L1163.2,692.9 L1165.8,694.1 L1168.5,695.3 L1171.1,696.7 L1173.7,698.1 L1176.4,699.6 L1179.0,701.2 L1181.7,702.9 L1184.3,704.7 L1186.9,706.5 L1189.6,708.5 L1192.2,710.5 L1194.9,712.7 L1197.5,714.9 L1200.1,717.2 L1202.8,719.6 L1205.4,722.1 L1208.1,724.7 L1210.7,727.4 L1213.4,730.2 L1216.0,733.1 L1218.6,736.0 L1221.3,739.1 L1223.9,742.2 L1226.6,745.4 L1229.2,748.7 L1231.8,752.1 L1234.5,755.6 L1237.1,759.1 L1239.8,762.8 L1242.4,766.5 L1245.0,770.3 L1247.7,774.1 L1250.3,778.1 L1253.0,782.1 L1255.6,786.2 L1258.2,790.3 L1260.9,794.5 L1263.5,798.8 L1266.2,803.1 L1268.8,807.5 L1271.4,812.0 L1274.1,816.5 L1276.7,821.1 L1279.4,825.7 L1282.0,830.3 L1284.6,835.1 L1287.3,839.8 L1289.9,844.6 L1292.6,849.4 L1295.2,854.3 L1297.9,859.2 L1300.5,864.2 L1303.1,869.1 L1305.8,874.1 L1308.4,879.2 L1311.1,884.2 L1313.7,889.3 L1316.3,894.3 L1319.0,899.4 L1321.6,904.6 L1324.3,909.7 L1326.9,914.8 L1329.5,920.0 L1332.2,925.1 L1334.8,930.3 L1337.5,935.4 L1340.1,940.6 L1342.7,945.7 L1345.4,950.9 L1348.0,956.0 L1350.7,961.1 L1353.3,966.2 L1355.9,971.3 L1358.6,976.4 L1361.2,981.5 L1363.9,986.6 L1366.5,991.6 L1369.1,996.6 L1371.8,1001.6 L1374.4,1006.6 L1377.1,1011.5 L1379.7,1016.4 L1382.3,1021.3 L1385.0,1026.2 L1387.6,1031.0 L1390.3,1035.9 L1392.9,1040.6 L1395.6,1045.4 L1398.2,1050.1 L1400.8,1054.8 L1403.5,1059.4 L1406.1,1064.0 L1408.8,1068.6 L1411.4,1073.1 L1414.0,1077.6 L1416.7,1082.0 L1419.3,1086.5 L1422.0,1090.8 L1424.6,1095.2 L1427.2,1099.5 L1429.9,1103.7 L1432.5,1107.9 L1435.2,1112.1 L1437.8,1116.2 L1440.4,1120.3 L1443.1,1124.3 L1445.7,1128.3 L1448.4,1132.3 L1451.0,1136.2 L1453.6,1140.1 L1456.3,1143.9 L1458.9,1147.7 L1461.6,1151.5 L1464.2,1155.2 L1466.8,1158.8 L1469.5,1162.4 L1472.1,1166.0 L1474.8,1169.5 L1477.4,1173.0 L1480.1,1176.5 L1482.7,1179.9 L1485.3,1183.2 L1488.0,1186.6 L1490.6,1189.9 L1493.3,1193.1 L1495.9,1196.3 L1498.5,1199.5 L1501.2,1202.6 L1503.8,1205.7 L1506.5,1208.7 L1509.1,1211.7 L1511.7,1214.7 L1514.4,1217.7 L1517.0,1220.6 L1519.7,1223.4 L1522.3,1226.3 L1524.9,1229.0 L1527.6,1231.8 L1530.2,1234.5 L1532.9,1237.2 L1535.5,1239.9 L1538.1,1242.5 L1540.8,1245.1 L1543.4,1247.7 L1546.1,1250.2 L1548.7,1252.7 L1551.3,1255.2 L1554.0,1257.6 L1556.6,1260.1 L1559.3,1262.4 L1561.9,1264.8 L1564.6,1267.1 L1567.2,1269.4 L1569.8,1271.7 L1572.5,1274.0 L1575.1,1276.2 L1577.8,1278.4 L1580.4,1280.6 L1583.0,1282.8 L1585.7,1284.9 L1588.3,1287.0 L1591.0,1289.1 L1593.6,1291.2 L1596.2,1293.2 L1598.9,1295.3 L1601.5,1297.3 L1604.2,1299.3 L1606.8,1301.2 L1609.4,1303.2 L1612.1,1305.1 L1614.7,1307.1 L1617.4,1309.0 L1620.0,1310.8 L1622.6,1312.7 L1625.3,1314.6 L1627.9,1316.4 L1630.6,1318.2 L1633.2,1320.0 L1635.8,1321.8 L1638.5,1323.6 L1641.1,1325.4 L1643.8,1327.1 L1646.4,1328.9 L1649.1,1330.6 L1651.7,1332.3 L1654.3,1334.0 L1657.0,1335.7 L1659.6,1337.4 L1662.3,1339.1 L1664.9,1340.7 L1667.5,1342.4 L1670.2,1344.0 L1672.8,1345.6 L1675.5,1347.2 L1678.1,1348.8 L1680.7,1350.4 L1683.4,1352.0 L1686.0,1353.6 L1688.7,1355.1 L1691.3,1356.7"/>
<path stroke="#ffff00" d="M371.0,1417.1 L373.6,1417.0 L376.3,1417.0 L378.9,1416.9 L381.6,1416.8 L384.2,1416.7 L386.8,1416.6 L389.5,1416.5 L392.1,1416.4 L394.8,1416.3 L397.4,1416.2 L400.0,1416.1 L402.7,1416.0 L405.3,1415.9 L408.0,1415.8 L410.6,1415.6 L413.2,1415.5 L415.9,1415.3 L418.5,1415.2 L421.2,1415.0 L423.8,1414.9 L426.5,1414.7 L429.1,1414.5 L431.7,1414.3 L434.4,1414.2 L437.0,1414.0 L439.7,1413.8 L442.3,1413.6 L444.9,1413.3 L447.6,1413.1 L450.2,1412.9 L452.9,1412.6 L455.5,1412.4 L458.1,1412.1 L460.8,1411.9 L463.4,1411.6 L466.1,1411.3 L468.7,1411.0 L471.3,1410.7 L474.0,1410.4 L476.6,1410.1 L479.3,1409.7 L481.9,1409.4 L484.5,1409.0 L487.2,1408.7 L489.8,1408.3 L492.5,1407.9 L495.1,1407.5 L497.7,1407.1 L500.4,1406.7 L503.0,1406.2 L505.7,1405.8 L508.3,1405.3 L511.0,1404.9 L513.6,1404.4 L516.2,1403.9 L518.9,1403.4 L521.5,1402.8 L524.2,1402.3 L526.8,1401.7 L529.4,1401.1 L532.1,1400.6 L534.7,1399.9 L537.4,1399.3 L540.0,1398.7 L542.6,1398.0 L545.3,1397.4 L547.9,1396.7 L550.6,1396.0 L553.2,1395.2 L555.8,1394.5 L558.5,1393.7 L561.1,1393.0 L563.8,1392.2 L566.4,1391.3 L569.0,1390.5 L571.7,1389.6 L574.3,1388.8 L577.0,1387.9 L579.6,1386.9 L582.2,1386.0 L584.9,1385.0 L587.5,1384.0 L590.2,1383.0 L592.8,1382.0 L595.5,1381.0 L598.1,1379.9 L600.7,1378.8 L603.4,1377.7 L606.0,1376.5 L608.7,1375.4 L611.3,1374.2 L613.9,1373.0 L616.6,1371.7 L619.2,1370.5 L621.9,1369.2 L624.5,1367.9 L627.1,1366.5 L629.8,1365.2 L632.4,1363.8 L635.1,1362.4 L637.7,1360.9 L640.3,1359.5 L643.0,1358.0 L645.6,1356.5 L648.3,1354.9 L650.9,1353.4 L653.5,1351.8 L656.2,1350.2 L658.8,1348.5 L661.5,1346.8 L664.1,1345.1 L666.7,1343.4 L669.4,1341.7 L672.0,1339.9 L674.7,1338.1 L677.3,1336.3 L680.0,1334.4 L682.6,1332.6 L685.2,1330.6 L687.9,1328.7 L690.5,1326.8 L693.2,1324.8 L695.8,1322.8 L698.4,1320.8 L701.1,1318.7 L703.7,1316.6 L706.4,1314.6 L709.0,1312.4 L711.6,1310.3 L714.3,1308.1 L716.9,1305.9 L719.6,1303.7 L722.2,1301.5 L724.8,1299.2 L727.5,1297.0 L730.1,1294.7 L732.8,1292.4 L735.4,1290.0 L738.0,1287.7 L740.7,1285.3 L743.3,1282.9 L746.0,1280.5 L748.6,1278.1 L751.2,1275.6 L753.9,1273.2 L756.5,1270.7 L759.2,1268.2 L761.8,1265.7 L764.4,1263.2 L767.1,1260.7 L769.7,1258.2 L772.4,1255.6 L775.0,1253.0 L777.7,1250.5 L780.3,1247.9 L782.9,1245.3 L785.6,1242.7 L788.2,1240.1 L790.9,1237.5 L793.5,1234.9 L796.1,1232.2 L798.8,1229.6 L801.4,1227.0 L804.1,1224.4 L806.7,1221.7 L809.3,1219.1 L812.0,1216.4 L814.6,1213.8 L817.3,1211.2 L819.9,1208.5 L822.5,1205.9 L825.2,1203.3 L827.8,1200.6 L830.5,1198.0 L833.1,1195.4 L835.7,1192.8 L838.4,1190.2 L841.0,1187.6 L843.7,1185.0 L846.3,1182.4 L848.9,1179.9 L851.6,1177.3 L854.2,1174.8 L856.9,1172.3 L859.5,1169.7 L862.2,1167.2 L864.8,1164.7 L867.4,1162.3 L870.1,1159.8 L872.7,1157.4 L875.4,1154.9 L878.0,1152.5 L880.6,1150.1 L883.3,1147.8 L885.9,1145.4 L888.6,1143.1 L891.2,1140.8 L893.8,1138.5 L896.5,1136.2 L899.1,1134.0 L901.8,1131.8 L904.4,1129.6 L907.0,1127.4 L909.7,1125.3 L912.3,1123.2 L915.0,1121.1 L917.6,1119.0 L920.2,1117.0 L922.9,1114.9 L925.5,1113.0 L928.2,1111.0 L930.8,1109.1 L933.4,1107.2 L936.1,1105.3 L938.7,1103.4 L941.4,1101.6 L944.0,1099.9 L946.7,1098.1 L949.3,1096.4 L951.9,1094.7 L954.6,1093.0 L957.2,1091.4 L959.9,1089.8 L962.5,1088.2 L965.1,1086.7 L967.8,1085.2 L970.4,1083.7 L973.1,1082.3 L975.7,1080.9 L978.3,1079.5 L981.0,1078.1 L983.6,1076.8 L986.3,1075.6 L988.9,1074.3 L991.5,1073.1 L994.2,1071.9 L996.8,1070.8 L999.5,1069.6 L1002.1,1068.6 L1004.7,1067.5 L1007.4,1066.5 L1010.0,1065.5 L1012.7,1064.5 L1015.3,1063.6 L1017.9,1062.7 L1020.6,1061.9 L1023.2,1061.0 L1025.9,1060.2 L1028.5,1059.5 L1031.2,1058.7 L1033.8,1058.0 L1036.4,1057.4 L1039.1,1056.7 L1041.7,1056.1 L1044.4,1055.5 L1047.0,1055.0 L1049.6,1054.5 L1052.3,1054.0 L1054.9,1053.5 L1057.6,1053.1 L1060.2,1052.7 L1062.8,1052.3 L1065.5,1051.9 L1068.1,1051.6 L1070.8,1051.3 L1073.4,1051.1 L1076.0,1050.8 L1078.7,1050.6 L1081.3,1050.4 L1084.0,1050.3 L1086.6,1050.2 L1089.2,1050.1 L1091.9,1050.0 L1094.5,1049.9 L1097.2,1049.9 L1099.8,1049.9 L1102.4,1049.9 L1105.1,1049.9 L1107.7,1050.0 L1110.4,1050.0 L1113.0,1050.1 L1115.6,1050.2 L1118.3,1050.3 L1120.9,1050.4 L1123.6,1050.5 L1126.2,1050.7 L1128.9,1050.9 L1131.5,1051.1 L1134.1,1051.4 L1136.8,1051.6 L1139.4,1052.0 L1142.1,1052.3 L1144.7,1052.7 L1147.3,1053.1 L1150.0,1053.6 L1152.6,1054.0 L1155.3,1054.6 L1157.9,1055.1 L1160.5,1055.7 L1163.2,1056.4 L1165.8,1057.1 L1168.5,1057.8 L1171.1,1058.5 L1173.7,1059.4 L1176.4,1060.2 L1179.0,1061.1 L1181.7,1062.0 L1184.3,1063.0 L1186.9,1064.0 L1189.6,1065.1 L1192.2,1066.2 L1194.9,1067.4 L1197.5,1068.6 L1200.1,1069.8 L1202.8,1071.1 L1205.4,1072.4 L1208.1,1073.8 L1210.7,1075.2 L1213.4,1076.6 L1216.0,1078.1 L1218.6,1079.7 L1221.3,1081.3 L1223.9,1082.9 L1226.6,1084.5 L1229.2,1086.2 L1231.8,1088.0 L1234.5,1089.8 L1237.1,1091.6 L1239.8,1093.4 L1242.4,1095.3 L1245.0,1097.2 L1247.7,1099.2 L1250.3,1101.2 L1253.0,1103.2 L1255.6,1105.3 L1258.2,1107.3 L1260.9,1109.5 L1263.5,1111.6 L1266.2,1113.8 L1268.8,1116.0 L1271.4,1118.2 L1274.1,1120.4 L1276.7,1122.7 L1279.4,1125.0 L1282.0,1127.3 L1284.6,1129.7 L1287.3,1132.0 L1289.9,1134.4 L1292.6,1136.8 L1295.2,1139.2 L1297.9,1141.6 L1300.5,1144.1 L1303.1,1146.5 L1305.8,1149.0 L1308.4,1151.4 L1311.1,1153.9 L1313.7,1156.4 L1316.3,1158.9 L1319.0,1161.4 L1321.6,1163.9 L1324.3,1166.4 L1326.9,1169.0 L1329.5,1171.5 L1332.2,1174.0 L1334.8,1176.5 L1337.5,1179.0 L1340.1,1181.6 L1342.7,1184.1 L1345.4,1186.6 L1348.0,1189.1 L1350.7,1191.6 L1353.3,1194.1 L1355.9,1196.6 L1358.6,1199.1 L1361.2,1201.6 L1363.9,1204.1 L1366.5,1206.5 L1369.1,1209.0 L1371.8,1211.4 L1374.4,1213.9 L1377.1,1216.3 L1379.7,1218.7 L1382.3,1221.1 L1385.0,1223.5 L1387.6,1225.8 L1390.3,1228.2 L1392.9,1230.5 L1395.6,1232.9 L1398.2,1235.2 L1400.8,1237.5 L1403.5,1239.7 L1406.1,1242.0 L1408.8,1244.2 L1411.4,1246.4 L1414.0,1248.7 L1416.7,1250.8 L1419.3,1253.0 L1422.0,1255.2 L1424.6,1257.3 L1427.2,1259.4 L1429.9,1261.5 L1432.5,1263.6 L1435.2,1265.6 L1437.8,1267.6 L1440.4,1269.7 L1443.1,1271.7 L1445.7,1273.6 L1448.4,1275.6 L1451.0,1277.5 L1453.6,1279.4 L1456.3,1281.3 L1458.9,1283.2 L1461.6,1285.1 L1464.2,1286.9 L1466.8,1288.7 L1469.5,1290.5 L1472.1,1292.3 L1474.8,1294.0 L1477.4,1295.8 L1480.1,1297.5 L1482.7,1299.2 L1485.3,1300.8 L1488.0,1302.5 L1490.6,1304.1 L1493.3,1305.8 L1495.9,1307.4 L1498.5,1308.9 L1501.2,1310.5 L1503.8,1312.0 L1506.5,1313.6 L1509.1,1315.1 L1511.7,1316.6 L1514.4,1318.0 L1517.0,1319.5 L1519.7,1320.9 L1522.3,1322.4 L1524.9,1323.8 L1527.6,1325.2 L1530.2,1326.5 L1532.9,1327.9 L1535.5,1329.2 L1538.1,1330.6 L1540.8,1331.9 L1543.4,1333.2 L1546.1,1334.5 L1548.7,1335.7 L1551.3,1337.0 L1554.0,1338.2 L1556.6,1339.5 L1559.3,1340.7 L1561.9,1341.9 L1564.6,1343.1 L1567.2,1344.2 L1569.8,1345.4 L1572.5,1346.5 L1575.1,1347.7 L1577.8,1348.8 L1580.4,1349.9 L1583.0,1351.0 L1585.7,1352.1 L1588.3,1353.2 L1591.0,1354.3 L1593.6,1355.3 L1596.2,1356.4 L1598.9,1357.4 L1601.5,1358.5 L1604.2,1359.5 L1606.8,1360.5 L1609.4,1361.5 L1612.1,1362.5 L1614.7,1363.5 L1617.4,1364.5 L1620.0,1365.5 L1622.6,1366.4 L1625.3,1367.4 L1627.9,1368.3 L1630.6,1369.3 L1633.2,1370.2 L1635.8,1371.2 L1638.5,1372.1 L1641.1,1373.0 L1643.8,1373.9 L1646.4,1374.8 L1649.1,1375.7 L1651.7,1376.6 L1654.3,1377.5 L1657.0,1378.4 L1659.6,1379.2 L1662.3,1380.1 L1664.9,1381.0 L1667.5,1381.8 L1670.2,1382.7 L1672.8,1383.6 L1675.5,1384.4 L1678.1,1385.2 L1680.7,1386.1 L1683.4,1386.9 L1686.0,1387.7 L1688.7,1388.5 L1691.3,1389.4"/>
<path stroke="#808000" d="M371.0,1419.3 L373.6,1419.2 L376.3,1419.2 L378.9,1419.1 L381.6,1419.0 L384.2,1419.0 L386.8,1418.9 L389.5,1418.8 L392.1,1418.7 L394.8,1418.6 L397.4,1418.5 L400.0,1418.5 L402.7,1418.4 L405.3,1418.3 L408.0,1418.1 L410.6,1418.0 L413.2,1417.9 L415.9,1417.8 L418.5,1417.7 L421.2,1417.5 L423.8,1417.4 L426.5,1417.3 L429.1,1417.1 L431.7,1417.0 L434.4,1416.8 L437.0,1416.7 L439.7,1416.5 L442.3,1416.3 L444.9,1416.1 L447.6,1415.9 L450.2,1415.8 L452.9,1415.6 L455.5,1415.3 L458.1,1415.1 L460.8,1414.9 L463.4,1414.7 L466.1,1414.4 L468.7,1414.2 L471.3,1413.9 L474.0,1413.7 L476.6,1413.4 L479.3,1413.1 L481.9,1412.8 L484.5,1412.5 L487.2,1412.2 L489.8,1411.9 L492.5,1411.6 L495.1,1411.3 L497.7,1410.9 L500.4,1410.6 L503.0,1410.2 L505.7,1409.8 L508.3,1409.4 L511.0,1409.0 L513.6,1408.6 L516.2,1408.2 L518.9,1407.7 L521.5,1407.3 L524.2,1406.8 L526.8,1406.4 L529.4,1405.9 L532.1,1405.4 L534.7,1404.8 L537.4,1404.3 L540.0,1403.8 L542.6,1403.2 L545.3,1402.6 L547.9,1402.0 L550.6,1401.4 L553.2,1400.8 L555.8,1400.2 L558.5,1399.5 L561.1,1398.8 L563.8,1398.1 L566.4,1397.4 L569.0,1396.7 L571.7,1395.9 L574.3,1395.2 L577.0,1394.4 L579.6,1393.6 L582.2,1392.8 L584.9,1391.9 L587.5,1391.1 L590.2,1390.2 L592.8,1389.3 L595.5,1388.4 L598.1,1387.4 L600.7,1386.5 L603.4,1385.5 L606.0,1384.5 L608.7,1383.5 L611.3,1382.4 L613.9,1381.3 L616.6,1380.2 L619.2,1379.1 L621.9,1378.0 L624.5,1376.8 L627.1,1375.6 L629.8,1374.4 L632.4,1373.2 L635.1,1371.9 L637.7,1370.7 L640.3,1369.4 L643.0,1368.0 L645.6,1366.7 L648.3,1365.3 L650.9,1363.9 L653.5,1362.5 L656.2,1361.0 L658.8,1359.6 L661.5,1358.1 L664.1,1356.5 L666.7,1355.0 L669.4,1353.4 L672.0,1351.8 L674.7,1350.2 L677.3,1348.5 L680.0,1346.9 L682.6,1345.2 L685.2,1343.5 L687.9,1341.7 L690.5,1339.9 L693.2,1338.2 L695.8,1336.3 L698.4,1334.5 L701.1,1332.6 L703.7,1330.8 L706.4,1328.9 L709.0,1326.9 L711.6,1325.0 L714.3,1323.0 L716.9,1321.0 L719.6,1319.0 L722.2,1317.0 L724.8,1314.9 L727.5,1312.8 L730.1,1310.7 L732.8,1308.6 L735.4,1306.5 L738.0,1304.3 L740.7,1302.2 L743.3,1300.0 L746.0,1297.8 L748.6,1295.6 L751.2,1293.3 L753.9,1291.1 L756.5,1288.8 L759.2,1286.5 L761.8,1284.2 L764.4,1281.9 L767.1,1279.6 L769.7,1277.3 L772.4,1275.0 L775.0,1272.6 L777.7,1270.2 L780.3,1267.9 L782.9,1265.5 L785.6,1263.1 L788.2,1260.7 L790.9,1258.3 L793.5,1255.9 L796.1,1253.5 L798.8,1251.1 L801.4,1248.7 L804.1,1246.3 L806.7,1243.9 L809.3,1241.4 L812.0,1239.0 L814.6,1236.6 L817.3,1234.2 L819.9,1231.8 L822.5,1229.3 L825.2,1226.9 L827.8,1224.5 L830.5,1222.1 L833.1,1219.7 L835.7,1217.3 L838.4,1214.9 L841.0,1212.6 L843.7,1210.2 L846.3,1207.9 L848.9,1205.5 L851.6,1203.2 L854.2,1200.8 L856.9,1198.5 L859.5,1196.2 L862.2,1194.0 L864.8,1191.7 L867.4,1189.4 L870.1,1187.2 L872.7,1185.0 L875.4,1182.8 L878.0,1180.6 L880.6,1178.4 L883.3,1176.3 L885.9,1174.1 L888.6,1172.0 L891.2,1169.9 L893.8,1167.9 L896.5,1165.8 L899.1,1163.8 L901.8,1161.8 L904.4,1159.8 L907.0,1157.9 L909.7,1155.9 L912.3,1154.0 L915.0,1152.1 L917.6,1150.3 L920.2,1148.5 L922.9,1146.7 L925.5,1144.9 L928.2,1143.1 L930.8,1141.4 L933.4,1139.7 L936.1,1138.1 L938.7,1136.4 L941.4,1134.8 L944.0,1133.2 L946.7,1131.7 L949.3,1130.2 L951.9,1128.7 L954.6,1127.2 L957.2,1125.8 L959.9,1124.4 L962.5,1123.0 L965.1,1121.7 L967.8,1120.4 L970.4,1119.1 L973.1,1117.8 L975.7,1116.6 L978.3,1115.4 L981.0,1114.3 L983.6,1113.1 L986.3,1112.0 L988.9,1111.0 L991.5,1109.9 L994.2,1108.9 L996.8,1108.0 L999.5,1107.0 L1002.1,1106.1 L1004.7,1105.2 L1007.4,1104.4 L1010.0,1103.6 L1012.7,1102.8 L1015.3,1102.0 L1017.9,1101.3 L1020.6,1100.6 L1023.2,1099.9 L1025.9,1099.3 L1028.5,1098.6 L1031.2,1098.1 L1033.8,1097.5 L1036.4,1097.0 L1039.1,1096.5 L1041.7,1096.0 L1044.4,1095.6 L1047.0,1095.2 L1049.6,1094.8 L1052.3,1094.4 L1054.9,1094.1 L1057.6,1093.8 L1060.2,1093.5 L1062.8,1093.2 L1065.5,1093.0 L1068.1,1092.8 L1070.8,1092.7 L1073.4,1092.5 L1076.0,1092.4 L1078.7,1092.3 L1081.3,1092.2 L1084.0,1092.2 L1086.6,1092.1 L1089.2,1092.1 L1091.9,1092.1 L1094.5,1092.2 L1097.2,1092.2 L1099.8,1092.2 L1102.4,1092.3 L1105.1,1092.3 L1107.7,1092.4 L1110.4,1092.5 L1113.0,1092.7 L1115.6,1092.8 L1118.3,1093.0 L1120.9,1093.2 L1123.6,1093.4 L1126.2,1093.6 L1128.9,1093.9 L1131.5,1094.2 L1134.1,1094.5 L1136.8,1094.8 L1139.4,1095.2 L1142.1,1095.6 L1144.7,1096.1 L1147.3,1096.5 L1150.0,1097.0 L1152.6,1097.6 L1155.3,1098.2 L1157.9,1098.8 L1160.5,1099.4 L1163.2,1100.1 L1165.8,1100.8 L1168.5,1101.6 L1171.1,1102.4 L1173.7,1103.2 L1176.4,1104.1 L1179.0,1105.0 L1181.7,1105.9 L1184.3,1106.9 L1186.9,1107.9 L1189.6,1108.9 L1192.2,1110.0 L1194.9,1111.2 L1197.5,1112.3 L1200.1,1113.5 L1202.8,1114.8 L1205.4,1116.0 L1208.1,1117.3 L1210.7,1118.7 L1213.4,1120.1 L1216.0,1121.5 L1218.6,1122.9 L1221.3,1124.4 L1223.9,1125.9 L1226.6,1127.5 L1229.2,1129.1 L1231.8,1130.7 L1234.5,1132.3 L1237.1,1134.0 L1239.8,1135.7 L1242.4,1137.5 L1245.0,1139.2 L1247.7,1141.0 L1250.3,1142.8 L1253.0,1144.7 L1255.6,1146.5 L1258.2,1148.4 L1260.9,1150.3 L1263.5,1152.3 L1266.2,1154.2 L1268.8,1156.2 L1271.4,1158.2 L1274.1,1160.2 L1276.7,1162.3 L1279.4,1164.3 L1282.0,1166.4 L1284.6,1168.5 L1287.3,1170.6 L1289.9,1172.7 L1292.6,1174.8 L1295.2,1176.9 L1297.9,1179.1 L1300.5,1181.2 L1303.1,1183.4 L1305.8,1185.6 L1308.4,1187.7 L1311.1,1189.9 L1313.7,1192.1 L1316.3,1194.3 L1319.0,1196.5 L1321.6,1198.7 L1324.3,1200.9 L1326.9,1203.1 L1329.5,1205.3 L1332.2,1207.5 L1334.8,1209.7 L1337.5,1211.9 L1340.1,1214.1 L1342.7,1216.3 L1345.4,1218.5 L1348.0,1220.7 L1350.7,1222.9 L1353.3,1225.0 L1355.9,1227.2 L1358.6,1229.4 L1361.2,1231.5 L1363.9,1233.7 L1366.5,1235.8 L1369.1,1237.9 L1371.8,1240.0 L1374.4,1242.1 L1377.1,1244.2 L1379.7,1246.3 L1382.3,1248.4 L1385.0,1250.4 L1387.6,1252.5 L1390.3,1254.5 L1392.9,1256.5 L1395.6,1258.5 L1398.2,1260.5 L1400.8,1262.5 L1403.5,1264.4 L1406.1,1266.4 L1408.8,1268.3 L1411.4,1270.2 L1414.0,1272.1 L1416.7,1274.0 L1419.3,1275.9 L1422.0,1277.7 L1424.6,1279.5 L1427.2,1281.4 L1429.9,1283.2 L1432.5,1284.9 L1435.2,1286.7 L1437.8,1288.4 L1440.4,1290.2 L1443.1,1291.9 L1445.7,1293.6 L1448.4,1295.3 L1451.0,1296.9 L1453.6,1298.6 L1456.3,1300.2 L1458.9,1301.8 L1461.6,1303.4 L1464.2,1305.0 L1466.8,1306.5 L1469.5,1308.1 L1472.1,1309.6 L1474.8,1311.1 L1477.4,1312.6 L1480.1,1314.0 L1482.7,1315.5 L1485.3,1316.9 L1488.0,1318.4 L1490.6,1319.8 L1493.3,1321.2 L1495.9,1322.5 L1498.5,1323.9 L1501.2,1325.2 L1503.8,1326.6 L1506.5,1327.9 L1509.1,1329.2 L1511.7,1330.4 L1514.4,1331.7 L1517.0,1333.0 L1519.7,1334.2 L1522.3,1335.4 L1524.9,1336.6 L1527.6,1337.8 L1530.2,1339.0 L1532.9,1340.2 L1535.5,1341.3 L1538.1,1342.5 L1540.8,1343.6 L1543.4,1344.7 L1546.1,1345.8 L1548.7,1346.9 L1551.3,1348.0 L1554.0,1349.0 L1556.6,1350.1 L1559.3,1351.1 L1561.9,1352.2 L1564.6,1353.2 L1567.2,1354.2 L1569.8,1355.2 L1572.5,1356.2 L1575.1,1357.2 L1577.8,1358.1 L1580.4,1359.1 L1583.0,1360.1 L1585.7,1361.0 L1588.3,1361.9 L1591.0,1362.8 L1593.6,1363.8 L1596.2,1364.7 L1598.9,1365.6 L1601.5,1366.5 L1604.2,1367.3 L1606.8,1368.2 L1609.4,1369.1 L1612.1,1369.9 L1614.7,1370.8 L1617.4,1371.6 L1620.0,1372.5 L1622.6,1373.3 L1625.3,1374.1 L1627.9,1374.9 L1630.6,1375.7 L1633.2,1376.6 L1635.8,1377.3 L1638.5,1378.1 L1641.1,1378.9 L1643.8,1379.7 L1646.4,1380.5 L1649.1,1381.3 L1651.7,1382.0 L1654.3,1382.8 L1657.0,1383.5 L1659.6,1384.3 L1662.3,1385.0 L1664.9,1385.8 L1667.5,1386.5 L1670.2,1387.3 L1672.8,1388.0 L1675.5,1388.7 L1678.1,1389.4 L1680.7,1390.1 L1683.4,1390.9 L1686.0,1391.6 L1688.7,1392.3 L1691.3,1393.0"/>
<path stroke="#000080" d="M371.0,1421.7 L373.6,1421.7 L376.3,1421.7 L378.9,1421.7 L381.6,1421.7 L384.2,1421.6 L386.8,1421.6 L389.5,1421.6 L392.1,1421.6 L394.8,1421.5 L397.4,1421.5 L400.0,1421.5 L402.7,1421.4 L405.3,1421.4 L408.0,1421.4 L410.6,1421.3 L413.2,1421.3 L415.9,1421.2 L418.5,1421.2 L421.2,1421.1 L423.8,1421.0 L426.5,1421.0 L429.1,1420.9 L431.7,1420.8 L434.4,1420.7 L437.0,1420.6 L439.7,1420.6 L442.3,1420.5 L444.9,1420.4 L447.6,1420.3 L450.2,1420.1 L452.9,1420.0 L455.5,1419.9 L458.1,1419.8 L460.8,1419.7 L463.4,1419.5 L466.1,1419.4 L468.7,1419.2 L471.3,1419.1 L474.0,1418.9 L476.6,1418.8 L479.3,1418.6 L481.9,1418.4 L484.5,1418.2 L487.2,1418.0 L489.8,1417.8 L492.5,1417.6 L495.1,1417.4 L497.7,1417.2 L500.4,1417.0 L503.0,1416.8 L505.7,1416.5 L508.3,1416.3 L511.0,1416.0 L513.6,1415.7 L516.2,1415.5 L518.9,1415.2 L521.5,1414.9 L524.2,1414.6 L526.8,1414.3 L529.4,1414.0 L532.1,1413.6 L534.7,1413.3 L537.4,1412.9 L540.0,1412.6 L542.6,1412.2 L545.3,1411.8 L547.9,1411.4 L550.6,1411.0 L553.2,1410.6 L555.8,1410.2 L558.5,1409.8 L561.1,1409.3 L563.8,1408.9 L566.4,1408.4 L569.0,1407.9 L571.7,1407.4 L574.3,1406.9 L577.0,1406.4 L579.6,1405.9 L582.2,1405.3 L584.9,1404.8 L587.5,1404.2 L590.2,1403.6 L592.8,1403.0 L595.5,1402.4 L598.1,1401.8 L600.7,1401.1 L603.4,1400.5 L606.0,1399.8 L608.7,1399.1 L611.3,1398.4 L613.9,1397.7 L616.6,1397.0 L619.2,1396.2 L621.9,1395.5 L624.5,1394.7 L627.1,1393.9 L629.8,1393.1 L632.4,1392.3 L635.1,1391.4 L637.7,1390.6 L640.3,1389.7 L643.0,1388.8 L645.6,1387.9 L648.3,1387.0 L650.9,1386.1 L653.5,1385.1 L656.2,1384.2 L658.8,1383.2 L661.5,1382.2 L664.1,1381.2 L666.7,1380.1 L669.4,1379.1 L672.0,1378.0 L674.7,1377.0 L677.3,1375.9 L680.0,1374.8 L682.6,1373.6 L685.2,1372.5 L687.9,1371.3 L690.5,1370.2 L693.2,1369.0 L695.8,1367.8 L698.4,1366.6 L701.1,1365.4 L703.7,1364.1 L706.4,1362.9 L709.0,1361.6 L711.6,1360.3 L714.3,1359.0 L716.9,1357.7 L719.6,1356.4 L722.2,1355.0 L724.8,1353.7 L727.5,1352.3 L730.1,1350.9 L732.8,1349.6 L735.4,1348.2 L738.0,1346.8 L740.7,1345.3 L743.3,1343.9 L746.0,1342.5 L748.6,1341.0 L751.2,1339.6 L753.9,1338.1 L756.5,1336.6 L759.2,1335.1 L761.8,1333.6 L764.4,1332.1 L767.1,1330.6 L769.7,1329.1 L772.4,1327.6 L775.0,1326.1 L777.7,1324.5 L780.3,1323.0 L782.9,1321.4 L785.6,1319.9 L788.2,1318.4 L790.9,1316.8 L793.5,1315.2 L796.1,1313.7 L798.8,1312.1 L801.4,1310.6 L804.1,1309.0 L806.7,1307.5 L809.3,1305.9 L812.0,1304.3 L814.6,1302.8 L817.3,1301.2 L819.9,1299.7 L822.5,1298.1 L825.2,1296.6 L827.8,1295.0 L830.5,1293.5 L833.1,1292.0 L835.7,1290.4 L838.4,1288.9 L841.0,1287.4 L843.7,1285.9 L846.3,1284.4 L848.9,1282.9 L851.6,1281.4 L854.2,1279.9 L856.9,1278.4 L859.5,1277.0 L862.2,1275.5 L864.8,1274.1 L867.4,1272.6 L870.1,1271.2 L872.7,1269.8 L875.4,1268.4 L878.0,1267.0 L880.6,1265.7 L883.3,1264.3 L885.9,1263.0 L888.6,1261.6 L891.2,1260.3 L893.8,1259.0 L896.5,1257.7 L899.1,1256.4 L901.8,1255.2 L904.4,1253.9 L907.0,1252.7 L909.7,1251.5 L912.3,1250.3 L915.0,1249.1 L917.6,1248.0 L920.2,1246.8 L922.9,1245.7 L925.5,1244.6 L928.2,1243.5 L930.8,1242.4 L933.4,1241.4 L936.1,1240.3 L938.7,1239.3 L941.4,1238.3 L944.0,1237.3 L946.7,1236.4 L949.3,1235.4 L951.9,1234.5 L954.6,1233.6 L957.2,1232.7 L959.9,1231.8 L962.5,1231.0 L965.1,1230.2 L967.8,1229.4 L970.4,1228.6 L973.1,1227.8 L975.7,1227.0 L978.3,1226.3 L981.0,1225.6 L983.6,1224.9 L986.3,1224.3 L988.9,1223.6 L991.5,1223.0 L994.2,1222.4 L996.8,1221.8 L999.5,1221.2 L1002.1,1220.6 L1004.7,1220.1 L1007.4,1219.6 L1010.0,1219.1 L1012.7,1218.6 L1015.3,1218.2 L1017.9,1217.7 L1020.6,1217.3 L1023.2,1216.9 L1025.9,1216.5 L1028.5,1216.2 L1031.2,1215.8 L1033.8,1215.5 L1036.4,1215.2 L1039.1,1214.9 L1041.7,1214.6 L1044.4,1214.4 L1047.0,1214.2 L1049.6,1213.9 L1052.3,1213.7 L1054.9,1213.5 L1057.6,1213.4 L1060.2,1213.2 L1062.8,1213.1 L1065.5,1213.0 L1068.1,1212.9 L1070.8,1212.8 L1073.4,1212.7 L1076.0,1212.7 L1078.7,1212.6 L1081.3,1212.6 L1084.0,1212.6 L1086.6,1212.6 L1089.2,1212.6 L1091.9,1212.6 L1094.5,1212.6 L1097.2,1212.7 L1099.8,1212.7 L1102.4,1212.7 L1105.1,1212.8 L1107.7,1212.9 L1110.4,1213.0 L1113.0,1213.1 L1115.6,1213.2 L1118.3,1213.3 L1120.9,1213.4 L1123.6,1213.6 L1126.2,1213.8 L1128.9,1214.0 L1131.5,1214.2 L1134.1,1214.4 L1136.8,1214.6 L1139.4,1214.9 L1142.1,1215.2 L1144.7,1215.5 L1147.3,1215.8 L1150.0,1216.2 L1152.6,1216.5 L1155.3,1216.9 L1157.9,1217.3 L1160.5,1217.8 L1163.2,1218.2 L1165.8,1218.7 L1168.5,1219.2 L1171.1,1219.8 L1173.7,1220.3 L1176.4,1220.9 L1179.0,1221.5 L1181.7,1222.1 L1184.3,1222.7 L1186.9,1223.4 L1189.6,1224.1 L1192.2,1224.8 L1194.9,1225.5 L1197.5,1226.3 L1200.1,1227.1 L1202.8,1227.9 L1205.4,1228.7 L1208.1,1229.6 L1210.7,1230.4 L1213.4,1231.3 L1216.0,1232.2 L1218.6,1233.2 L1221.3,1234.1 L1223.9,1235.1 L1226.6,1236.1 L1229.2,1237.1 L1231.8,1238.2 L1234.5,1239.2 L1237.1,1240.3 L1239.8,1241.4 L1242.4,1242.5 L1245.0,1243.6 L1247.7,1244.7 L1250.3,1245.9 L1253.0,1247.1 L1255.6,1248.3 L1258.2,1249.5 L1260.9,1250.7 L1263.5,1251.9 L1266.2,1253.2 L1268.8,1254.4 L1271.4,1255.7 L1274.1,1257.0 L1276.7,1258.3 L1279.4,1259.6 L1282.0,1260.9 L1284.6,1262.2 L1287.3,1263.5 L1289.9,1264.9 L1292.6,1266.2 L1295.2,1267.6 L1297.9,1268.9 L1300.5,1270.3 L1303.1,1271.7 L1305.8,1273.0 L1308.4,1274.4 L1311.1,1275.8 L1313.7,1277.2 L1316.3,1278.6 L1319.0,1280.0 L1321.6,1281.4 L1324.3,1282.8 L1326.9,1284.1 L1329.5,1285.5 L1332.2,1286.9 L1334.8,1288.3 L1337.5,1289.7 L1340.1,1291.1 L1342.7,1292.5 L1345.4,1293.9 L1348.0,1295.3 L1350.7,1296.7 L1353.3,1298.0 L1355.9,1299.4 L1358.6,1300.8 L1361.2,1302.1 L1363.9,1303.5 L1366.5,1304.9 L1369.1,1306.2 L1371.8,1307.5 L1374.4,1308.9 L1377.1,1310.2 L1379.7,1311.5 L1382.3,1312.8 L1385.0,1314.1 L1387.6,1315.4 L1390.3,1316.7 L1392.9,1318.0 L1395.6,1319.3 L1398.2,1320.6 L1400.8,1321.8 L1403.5,1323.1 L1406.1,1324.3 L1408.8,1325.5 L1411.4,1326.8 L1414.0,1328.0 L1416.7,1329.2 L1419.3,1330.4 L1422.0,1331.5 L1424.6,1332.7 L1427.2,1333.9 L1429.9,1335.0 L1432.5,1336.2 L1435.2,1337.3 L1437.8,1338.4 L1440.4,1339.5 L1443.1,1340.6 L1445.7,1341.7 L1448.4,1342.8 L1451.0,1343.8 L1453.6,1344.9 L1456.3,1346.0 L1458.9,1347.0 L1461.6,1348.0 L1464.2,1349.0 L1466.8,1350.0 L1469.5,1351.0 L1472.1,1352.0 L1474.8,1353.0 L1477.4,1353.9 L1480.1,1354.9 L1482.7,1355.8 L1485.3,1356.8 L1488.0,1357.7 L1490.6,1358.6 L1493.3,1359.5 L1495.9,1360.4 L1498.5,1361.3 L1501.2,1362.1 L1503.8,1363.0 L1506.5,1363.9 L1509.1,1364.7 L1511.7,1365.5 L1514.4,1366.4 L1517.0,1367.2 L1519.7,1368.0 L1522.3,1368.8 L1524.9,1369.6 L1527.6,1370.4 L1530.2,1371.1 L1532.9,1371.9 L1535.5,1372.7 L1538.1,1373.4 L1540.8,1374.1 L1543.4,1374.9 L1546.1,1375.6 L1548.7,1376.3 L1551.3,1377.0 L1554.0,1377.7 L1556.6,1378.4 L1559.3,1379.1 L1561.9,1379.8 L1564.6,1380.5 L1567.2,1381.1 L1569.8,1381.8 L1572.5,1382.4 L1575.1,1383.1 L1577.8,1383.7 L1580.4,1384.4 L1583.0,1385.0 L1585.7,1385.6 L1588.3,1386.2 L1591.0,1386.9 L1593.6,1387.5 L1596.2,1388.1 L1598.9,1388.7 L1601.5,1389.3 L1604.2,1389.8 L1606.8,1390.4 L1609.4,1391.0 L1612.1,1391.6 L1614.7,1392.1 L1617.4,1392.7 L1620.0,1393.3 L1622.6,1393.8 L1625.3,1394.4 L1627.9,1394.9 L1630.6,1395.5 L1633.2,1396.0 L1635.8,1396.5 L1638.5,1397.1 L1641.1,1397.6 L1643.8,1398.1 L1646.4,1398.7 L1649.1,1399.2 L1651.7,1399.7 L1654.3,1400.2 L1657.0,1400.7 L1659.6,1401.2 L1662.3,1401.7 L1664.9,1402.2 L1667.5,1402.7 L1670.2,1403.2 L1672.8,1403.7 L1675.5,1404.2 L1678.1,1404.7 L1680.7,1405.2 L1683.4,1405.7 L1686.0,1406.2 L1688.7,1406.6 L1691.3,1407.1"/>
<path stroke="#800080" d="M371.0,1421.2 L373.6,1421.2 L376.3,1421.1 L378.9,1421.1 L381.6,1421.1 L384.2,1421.1 L386.8,1421.1 L389.5,1421.0 L392.1,1421.0 L394.8,1421.0 L397.4,1420.9 L400.0,1420.9 L402.7,1420.9 L405.3,1420.8 L408.0,1420.8 L410.6,1420.8 L413.2,1420.7 L415.9,1420.7 L418.5,1420.6 L421.2,1420.5 L423.8,1420.5 L426.5,1420.4 L429.1,1420.4 L431.7,1420.3 L434.4,1420.2 L437.0,1420.1 L439.7,1420.1 L442.3,1420.0 L444.9,1419.9 L447.6,1419.8 L450.2,1419.7 L452.9,1419.6 L455.5,1419.5 L458.1,1419.4 L460.8,1419.3 L463.4,1419.2 L466.1,1419.1 L468.7,1418.9 L471.3,1418.8 L474.0,1418.7 L476.6,1418.5 L479.3,1418.4 L481.9,1418.2 L484.5,1418.1 L487.2,1417.9 L489.8,1417.8 L492.5,1417.6 L495.1,1417.4 L497.7,1417.2 L500.4,1417.0 L503.0,1416.8 L505.7,1416.6 L508.3,1416.4 L511.0,1416.2 L513.6,1416.0 L516.2,1415.8 L518.9,1415.5 L521.5,1415.3 L524.2,1415.0 L526.8,1414.8 L529.4,1414.5 L532.1,1414.2 L534.7,1414.0 L537.4,1413.7 L540.0,1413.4 L542.6,1413.0 L545.3,1412.7 L547.9,1412.4 L550.6,1412.1 L553.2,1411.7 L555.8,1411.4 L558.5,1411.0 L561.1,1410.6 L563.8,1410.2 L566.4,1409.8 L569.0,1409.4 L571.7,1409.0 L574.3,1408.6 L577.0,1408.2 L579.6,1407.7 L582.2,1407.2 L584.9,1406.8 L587.5,1406.3 L590.2,1405.8 L592.8,1405.3 L595.5,1404.8 L598.1,1404.2 L600.7,1403.7 L603.4,1403.1 L606.0,1402.6 L608.7,1402.0 L611.3,1401.4 L613.9,1400.8 L616.6,1400.2 L619.2,1399.5 L621.9,1398.9 L624.5,1398.2 L627.1,1397.6 L629.8,1396.9 L632.4,1396.2 L635.1,1395.5 L637.7,1394.7 L640.3,1394.0 L643.0,1393.2 L645.6,1392.5 L648.3,1391.7 L650.9,1390.9 L653.5,1390.1 L656.2,1389.3 L658.8,1388.4 L661.5,1387.6 L664.1,1386.7 L666.7,1385.8 L669.4,1384.9 L672.0,1384.0 L674.7,1383.1 L677.3,1382.2 L680.0,1381.2 L682.6,1380.3 L685.2,1379.3 L687.9,1378.3 L690.5,1377.3 L693.2,1376.3 L695.8,1375.2 L698.4,1374.2 L701.1,1373.1 L703.7,1372.1 L706.4,1371.0 L709.0,1369.9 L711.6,1368.8 L714.3,1367.7 L716.9,1366.6 L719.6,1365.4 L722.2,1364.3 L724.8,1363.1 L727.5,1361.9 L730.1,1360.8 L732.8,1359.6 L735.4,1358.4 L738.0,1357.1 L740.7,1355.9 L743.3,1354.7 L746.0,1353.5 L748.6,1352.2 L751.2,1351.0 L753.9,1349.7 L756.5,1348.4 L759.2,1347.1 L761.8,1345.9 L764.4,1344.6 L767.1,1343.3 L769.7,1342.0 L772.4,1340.7 L775.0,1339.4 L777.7,1338.1 L780.3,1336.7 L782.9,1335.4 L785.6,1334.1 L788.2,1332.8 L790.9,1331.4 L793.5,1330.1 L796.1,1328.8 L798.8,1327.5 L801.4,1326.1 L804.1,1324.8 L806.7,1323.5 L809.3,1322.1 L812.0,1320.8 L814.6,1319.5 L817.3,1318.2 L819.9,1316.8 L822.5,1315.5 L825.2,1314.2 L827.8,1312.9 L830.5,1311.6 L833.1,1310.3 L835.7,1309.0 L838.4,1307.7 L841.0,1306.4 L843.7,1305.1 L846.3,1303.9 L848.9,1302.6 L851.6,1301.4 L854.2,1300.1 L856.9,1298.9 L859.5,1297.7 L862.2,1296.4 L864.8,1295.2 L867.4,1294.0 L870.1,1292.8 L872.7,1291.7 L875.4,1290.5 L878.0,1289.3 L880.6,1288.2 L883.3,1287.1 L885.9,1286.0 L888.6,1284.9 L891.2,1283.8 L893.8,1282.7 L896.5,1281.6 L899.1,1280.6 L901.8,1279.5 L904.4,1278.5 L907.0,1277.5 L909.7,1276.5 L912.3,1275.5 L915.0,1274.6 L917.6,1273.6 L920.2,1272.7 L922.9,1271.8 L925.5,1270.9 L928.2,1270.0 L930.8,1269.1 L933.4,1268.3 L936.1,1267.5 L938.7,1266.7 L941.4,1265.9 L944.0,1265.1 L946.7,1264.3 L949.3,1263.6 L951.9,1262.8 L954.6,1262.1 L957.2,1261.4 L959.9,1260.7 L962.5,1260.1 L965.1,1259.4 L967.8,1258.8 L970.4,1258.2 L973.1,1257.6 L975.7,1257.0 L978.3,1256.5 L981.0,1255.9 L983.6,1255.4 L986.3,1254.9 L988.9,1254.4 L991.5,1254.0 L994.2,1253.5 L996.8,1253.1 L999.5,1252.6 L1002.1,1252.2 L1004.7,1251.9 L1007.4,1251.5 L1010.0,1251.1 L1012.7,1250.8 L1015.3,1250.5 L1017.9,1250.2 L1020.6,1249.9 L1023.2,1249.6 L1025.9,1249.4 L1028.5,1249.1 L1031.2,1248.9 L1033.8,1248.7 L1036.4,1248.5 L1039.1,1248.3 L1041.7,1248.2 L1044.4,1248.0 L1047.0,1247.9 L1049.6,1247.8 L1052.3,1247.7 L1054.9,1247.6 L1057.6,1247.5 L1060.2,1247.4 L1062.8,1247.4 L1065.5,1247.4 L1068.1,1247.3 L1070.8,1247.3 L1073.4,1247.3 L1076.0,1247.3 L1078.7,1247.4 L1081.3,1247.4 L1084.0,1247.4 L1086.6,1247.4 L1089.2,1247.5 L1091.9,1247.5 L1094.5,1247.6 L1097.2,1247.6 L1099.8,1247.7 L1102.4,1247.8 L1105.1,1247.9 L1107.7,1248.0 L1110.4,1248.1 L1113.0,1248.3 L1115.6,1248.4 L1118.3,1248.6 L1120.9,1248.8 L1123.6,1248.9 L1126.2,1249.2 L1128.9,1249.4 L1131.5,1249.6 L1134.1,1249.9 L1136.8,1250.2 L1139.4,1250.4 L1142.1,1250.8 L1144.7,1251.1 L1147.3,1251.4 L1150.0,1251.8 L1152.6,1252.2 L1155.3,1252.6 L1157.9,1253.0 L1160.5,1253.4 L1163.2,1253.9 L1165.8,1254.3 L1168.5,1254.8 L1171.1,1255.3 L1173.7,1255.9 L1176.4,1256.4 L1179.0,1257.0 L1181.7,1257.6 L1184.3,1258.2 L1186.9,1258.8 L1189.6,1259.4 L1192.2,1260.1 L1194.9,1260.7 L1197.5,1261.4 L1200.1,1262.1 L1202.8,1262.9 L1205.4,1263.6 L1208.1,1264.4 L1210.7,1265.1 L1213.4,1265.9 L1216.0,1266.7 L1218.6,1267.6 L1221.3,1268.4 L1223.9,1269.2 L1226.6,1270.1 L1229.2,1271.0 L1231.8,1271.9 L1234.5,1272.8 L1237.1,1273.7 L1239.8,1274.7 L1242.4,1275.6 L1245.0,1276.6 L1247.7,1277.6 L1250.3,1278.5 L1253.0,1279.5 L1255.6,1280.5 L1258.2,1281.6 L1260.9,1282.6 L1263.5,1283.6 L1266.2,1284.7 L1268.8,1285.7 L1271.4,1286.8 L1274.1,1287.8 L1276.7,1288.9 L1279.4,1290.0 L1282.0,1291.1 L1284.6,1292.2 L1287.3,1293.3 L1289.9,1294.4 L1292.6,1295.5 L1295.2,1296.6 L1297.9,1297.7 L1300.5,1298.9 L1303.1,1300.0 L1305.8,1301.1 L1308.4,1302.2 L1311.1,1303.4 L1313.7,1304.5 L1316.3,1305.6 L1319.0,1306.8 L1321.6,1307.9 L1324.3,1309.0 L1326.9,1310.2 L1329.5,1311.3 L1332.2,1312.4 L1334.8,1313.6 L1337.5,1314.7 L1340.1,1315.8 L1342.7,1316.9 L1345.4,1318.0 L1348.0,1319.2 L1350.7,1320.3 L1353.3,1321.4 L1355.9,1322.5 L1358.6,1323.6 L1361.2,1324.7 L1363.9,1325.8 L1366.5,1326.9 L1369.1,1327.9 L1371.8,1329.0 L1374.4,1330.1 L1377.1,1331.2 L1379.7,1332.2 L1382.3,1333.3 L1385.0,1334.3 L1387.6,1335.3 L1390.3,1336.4 L1392.9,1337.4 L1395.6,1338.4 L1398.2,1339.4 L1400.8,1340.4 L1403.5,1341.4 L1406.1,1342.4 L1408.8,1343.4 L1411.4,1344.4 L1414.0,1345.3 L1416.7,1346.3 L1419.3,1347.2 L1422.0,1348.2 L1424.6,1349.1 L1427.2,1350.0 L1429.9,1350.9 L1432.5,1351.8 L1435.2,1352.7 L1437.8,1353.6 L1440.4,1354.5 L1443.1,1355.4 L1445.7,1356.2 L1448.4,1357.1 L1451.0,1357.9 L1453.6,1358.8 L1456.3,1359.6 L1458.9,1360.4 L1461.6,1361.3 L1464.2,1362.1 L1466.8,1362.9 L1469.5,1363.6 L1472.1,1364.4 L1474.8,1365.2 L1477.4,1366.0 L1480.1,1366.7 L1482.7,1367.5 L1485.3,1368.2 L1488.0,1368.9 L1490.6,1369.7 L1493.3,1370.4 L1495.9,1371.1 L1498.5,1371.8 L1501.2,1372.5 L1503.8,1373.2 L1506.5,1373.9 L1509.1,1374.5 L1511.7,1375.2 L1514.4,1375.8 L1517.0,1376.5 L1519.7,1377.1 L1522.3,1377.8 L1524.9,1378.4 L1527.6,1379.0 L1530.2,1379.6 L1532.9,1380.3 L1535.5,1380.9 L1538.1,1381.5 L1540.8,1382.0 L1543.4,1382.6 L1546.1,1383.2 L1548.7,1383.8 L1551.3,1384.3 L1554.0,1384.9 L1556.6,1385.5 L1559.3,1386.0 L1561.9,1386.6 L1564.6,1387.1 L1567.2,1387.6 L1569.8,1388.2 L1572.5,1388.7 L1575.1,1389.2 L1577.8,1389.7 L1580.4,1390.2 L1583.0,1390.7 L1585.7,1391.2 L1588.3,1391.7 L1591.0,1392.2 L1593.6,1392.7 L1596.2,1393.2 L1598.9,1393.7 L1601.5,1394.1 L1604.2,1394.6 L1606.8,1395.1 L1609.4,1395.5 L1612.1,1396.0 L1614.7,1396.5 L1617.4,1396.9 L1620.0,1397.4 L1622.6,1397.8 L1625.3,1398.2 L1627.9,1398.7 L1630.6,1399.1 L1633.2,1399.6 L1635.8,1400.0 L1638.5,1400.4 L1641.1,1400.8 L1643.8,1401.3 L1646.4,1401.7 L1649.1,1402.1 L1651.7,1402.5 L1654.3,1402.9 L1657.0,1403.3 L1659.6,1403.8 L1662.3,1404.2 L1664.9,1404.6 L1667.5,1405.0 L1670.2,1405.4 L1672.8,1405.8 L1675.5,1406.2 L1678.1,1406.6 L1680.7,1406.9 L1683.4,1407.3 L1686.0,1407.7 L1688.7,1408.1 L1691.3,1408.5"/>
</g>
<g stroke="#000" stroke-width="6.0" stroke-linecap="round" stroke-linejoin="round" fill="none">
<path d="M371.0,38.5 L2377.8,38.5 L2377.8,1465.3 L371.0,1465.3 Z"/>
<path d="M332.5,1428.0 L371.0,1428.0"/>
<path d="M352.0,1335.3 L371.0,1335.3"/>
<path d="M332.5,1242.7 L371.0,1242.7"/>
<path d="M352.0,1150.0 L371.0,1150.0"/>
<path d="M332.5,1057.4 L371.0,1057.4"/>
<path d="M352.0,964.8 L371.0,964.8"/>
<path d="M332.5,872.1 L371.0,872.1"/>
<path d="M352.0,779.5 L371.0,779.5"/>
<path d="M332.5,686.8 L371.0,686.8"/>
<path d="M352.0,594.1 L371.0,594.1"/>
<path d="M332.5,501.5 L371.0,501.5"/>
<path d="M352.0,408.9 L371.0,408.9"/>
<path d="M332.5,316.2 L371.0,316.2"/>
<path d="M352.0,223.5 L371.0,223.5"/>
<path d="M332.5,130.9 L371.0,130.9"/>
<path d="M352.0,38.2 L371.0,38.2"/>
<path d="M371.0,1465.3 L371.0,1501.5"/>
<path d="M503.0,1465.3 L503.0,1482.0"/>
<path d="M635.1,1465.3 L635.1,1501.5"/>
<path d="M767.1,1465.3 L767.1,1482.0"/>
<path d="M899.1,1465.3 L899.1,1501.5"/>
<path d="M1031.2,1465.3 L1031.2,1482.0"/>
<path d="M1163.2,1465.3 L1163.2,1501.5"/>
<path d="M1295.2,1465.3 L1295.2,1482.0"/>
<path d="M1427.2,1465.3 L1427.2,1501.5"/>
<path d="M1559.3,1465.3 L1559.3,1482.0"/>
<path d="M1691.3,1465.3 L1691.3,1501.5"/>
<path d="M1823.3,1465.3 L1823.3,1482.0"/>
<path d="M1955.4,1465.3 L1955.4,1501.5"/>
<path d="M2087.4,1465.3 L2087.4,1482.0"/>
<path d="M2219.4,1465.3 L2219.4,1501.5"/>
<path d="M2351.4,1465.3 L2351.4,1482.0"/>
</g>
<g font-family="'Liberation Serif', 'Times New Roman', serif" font-weight="bold" font-size="73" fill="#000">
<text x="296" y="1447.5" text-anchor="end">0</text>
<text x="296" y="1262.2" text-anchor="end">1000</text>
<text x="296" y="1076.9" text-anchor="end">2000</text>
<text x="296" y="891.6" text-anchor="end">3000</text>
<text x="296" y="706.3" text-anchor="end">4000</text>
<text x="296" y="521.0" text-anchor="end">5000</text>
<text x="296" y="335.7" text-anchor="end">6000</text>
<text x="296" y="150.4" text-anchor="end">7000</text>
<text x="371.0" y="1619" text-anchor="middle">400</text>
<text x="635.1" y="1619" text-anchor="middle">450</text>
<text x="899.1" y="1619" text-anchor="middle">500</text>
<text x="1163.2" y="1619" text-anchor="middle">550</text>
<text x="1427.2" y="1619" text-anchor="middle">600</text>
<text x="1691.3" y="1619" text-anchor="middle">650</text>
<text x="1955.4" y="1619" text-anchor="middle">700</text>
<text x="2219.4" y="1619" text-anchor="middle">750</text>
</g>
<text font-family="'Liberation Serif', 'Times New Roman', serif" font-weight="bold" font-size="78.5" x="1345" y="1724" text-anchor="middle">Wavelength / nm</text>
<text font-family="'Liberation Serif', 'Times New Roman', serif" font-weight="bold" font-size="77.9" transform="translate(86,709.3) rotate(-90)" text-anchor="middle">Flourescecne intensity / a.u.</text>
<text font-family="'Liberation Serif', 'Times New Roman', serif" font-weight="bold" font-size="76.5" transform="translate(453.5,224) scale(1.03,1)">[DA] / &#181;M</text>
<text font-family="'Liberation Serif', 'Times New Roman', serif" font-weight="bold" font-size="75" transform="translate(665,340.5) scale(1.13,1)">0</text>
<text font-family="'Liberation Serif', 'Times New Roman', serif" font-weight="bold" font-size="75" transform="translate(660,647) scale(1.13,1)">10</text>
<path d="M625,279 L625,630" stroke="#000" stroke-width="6" fill="none"/>
<path d="M610,628 L640,628 L625,656 Z" fill="#000"/>
<g stroke="#3c3c3c" stroke-width="3.5" stroke-linecap="round" stroke-linejoin="round" fill="none">
<path d="M1488.0,90.8 L2341.6,90.8 L2341.6,699.0 L1488.0,699.0 Z"/>
<path d="M1471.0,699.0 L1488.0,699.0"/>
<path d="M1478.5,658.5 L1488.0,658.5"/>
<path d="M1471.0,617.9 L1488.0,617.9"/>
<path d="M1478.5,577.4 L1488.0,577.4"/>
<path d="M1471.0,536.8 L1488.0,536.8"/>
<path d="M1478.5,496.2 L1488.0,496.2"/>
<path d="M1471.0,455.7 L1488.0,455.7"/>
<path d="M1478.5,415.2 L1488.0,415.2"/>
<path d="M1471.0,374.6 L1488.0,374.6"/>
<path d="M1478.5,334.1 L1488.0,334.1"/>
<path d="M1471.0,293.5 L1488.0,293.5"/>
<path d="M1478.5,253.0 L1488.0,253.0"/>
<path d="M1471.0,212.4 L1488.0,212.4"/>
<path d="M1478.5,171.9 L1488.0,171.9"/>
<path d="M1471.0,131.3 L1488.0,131.3"/>
<path d="M1478.5,90.8 L1488.0,90.8"/>
<path d="M1488.0,699.0 L1488.0,711.5"/>
<path d="M1565.6,699.0 L1565.6,705.5"/>
<path d="M1643.2,699.0 L1643.2,711.5"/>
<path d="M1720.8,699.0 L1720.8,705.5"/>
<path d="M1798.4,699.0 L1798.4,711.5"/>
<path d="M1876.0,699.0 L1876.0,705.5"/>
<path d="M1953.6,699.0 L1953.6,711.5"/>
<path d="M2031.2,699.0 L2031.2,705.5"/>
<path d="M2108.8,699.0 L2108.8,711.5"/>
<path d="M2186.4,699.0 L2186.4,705.5"/>
<path d="M2264.0,699.0 L2264.0,711.5"/>
<path d="M2341.6,699.0 L2341.6,705.5"/>
</g>
<g font-family="'Liberation Serif', 'Times New Roman', serif" font-weight="bold" font-size="52" fill="#000">
<text x="1445.5" y="719.0" text-anchor="end">0</text>
<text x="1445.5" y="637.9" text-anchor="end">1</text>
<text x="1445.5" y="556.8" text-anchor="end">2</text>
<text x="1445.5" y="475.7" text-anchor="end">3</text>
<text x="1445.5" y="394.6" text-anchor="end">4</text>
<text x="1445.5" y="313.5" text-anchor="end">5</text>
<text x="1445.5" y="232.4" text-anchor="end">6</text>
<text x="1445.5" y="151.3" text-anchor="end">7</text>
<text x="1488.0" y="762.5" text-anchor="middle">0</text>
<text x="1645.2" y="767.5" text-anchor="middle">2</text>
<text x="1796.4" y="767.5" text-anchor="middle">4</text>
<text x="1955.6" y="767.5" text-anchor="middle">6</text>
<text x="2108.8" y="767.5" text-anchor="middle">8</text>
<text x="2271.0" y="767.5" text-anchor="middle">10</text>
</g>
<text font-family="'Liberation Serif', 'Times New Roman', serif" font-weight="bold" font-size="56" x="1820" y="821">[DA] / &#181;M</text>
<text font-family="'Liberation Serif', 'Times New Roman', serif" font-weight="bold" font-size="61" x="1978" y="552">R=0.996</text>
<text font-family="'Liberation Serif', serif" font-weight="bold" font-style="italic" font-size="60" transform="translate(1384,451) rotate(-90)">I<tspan font-size="40" dy="14" font-style="normal">0</tspan><tspan dy="-14" font-weight="normal" font-style="normal">/</tspan><tspan>I</tspan></text>
<path d="M1488.0,617.0 L2341.6,127.3" stroke="#ff2020" stroke-width="4" fill="none"/>
<path d="M2264.5,143 L2264.5,182 M2260,143 L2269,143 M2260,182 L2269,182" stroke="#b0b0b0" stroke-width="1.5" fill="none"/>
<circle cx="1488.0" cy="617.9" r="8" fill="#000"/>
<circle cx="1526.8" cy="603.6" r="8" fill="#000"/>
<circle cx="1550.1" cy="589.0" r="8" fill="#000"/>
<circle cx="1565.6" cy="576.3" r="8" fill="#000"/>
<circle cx="1720.8" cy="461.4" r="8" fill="#000"/>
<circle cx="1876.0" cy="412.7" r="8" fill="#000"/>
<circle cx="2108.8" cy="248.4" r="8" fill="#000"/>
<circle cx="2264.0" cy="159.7" r="8" fill="#000"/>
</svg>
</body></html>
